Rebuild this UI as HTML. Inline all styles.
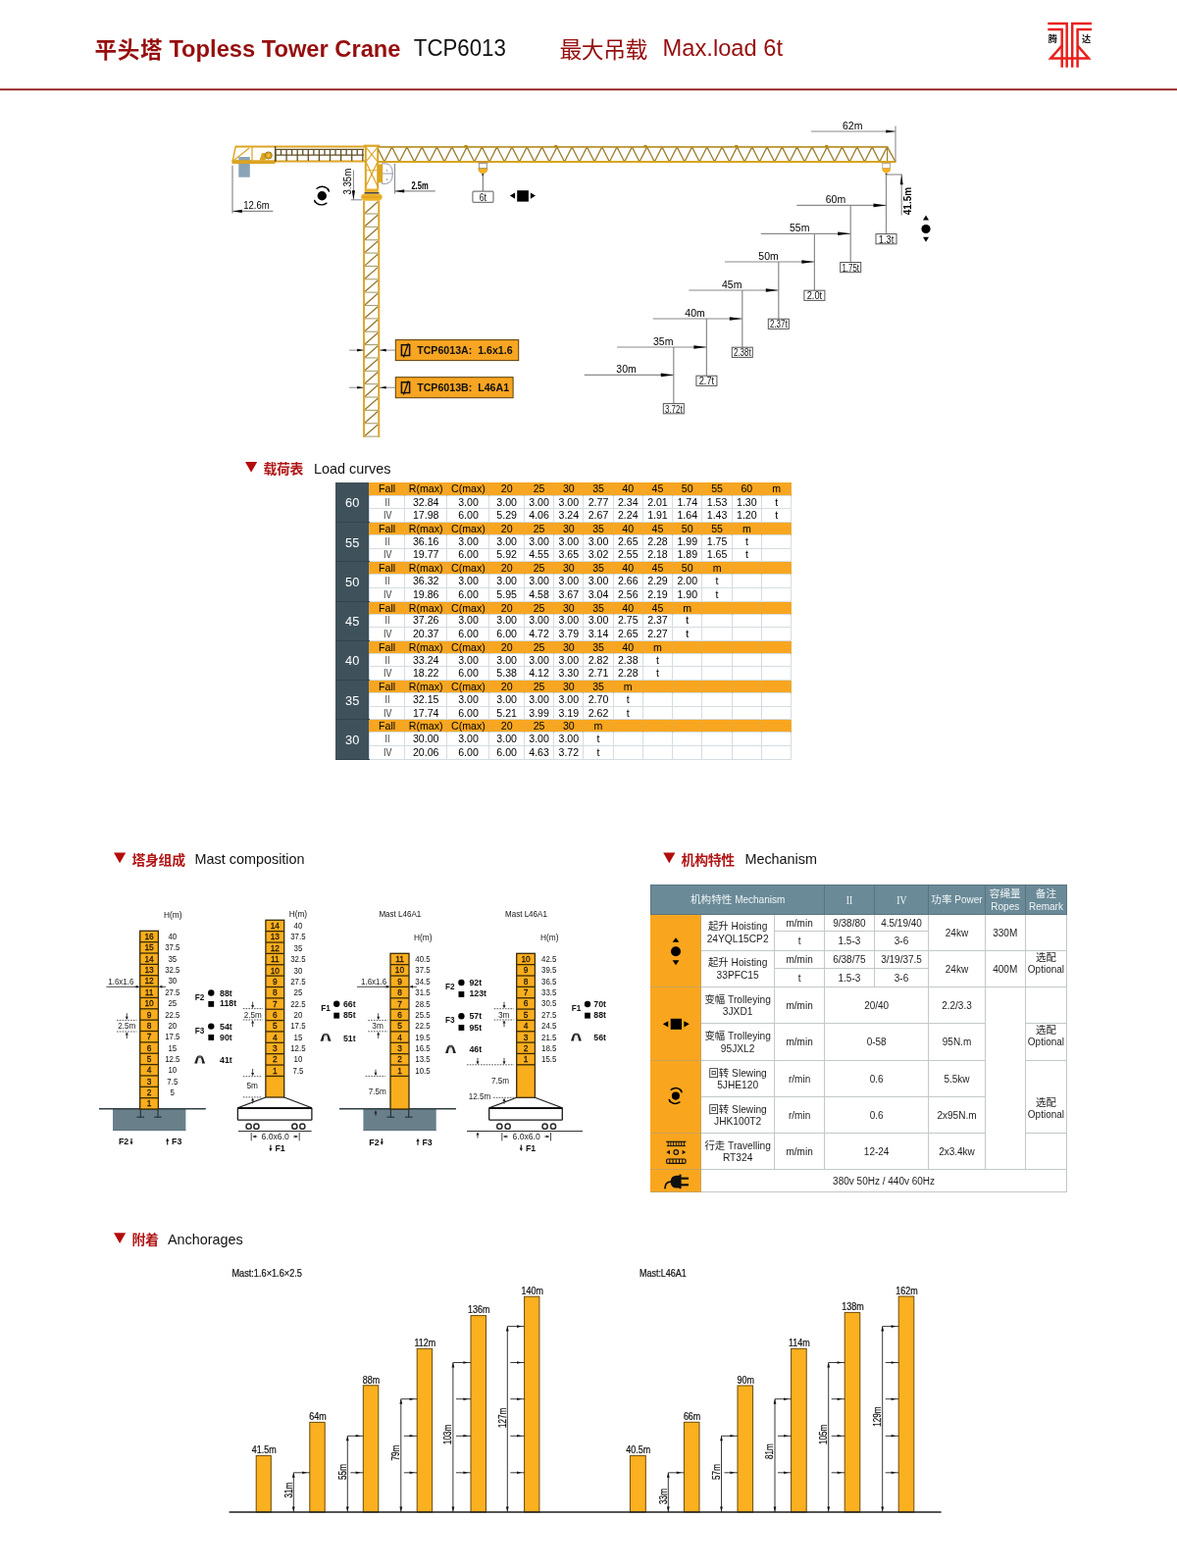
<!DOCTYPE html>
<html lang="zh"><head><meta charset="utf-8"><title>Topless Tower Crane TCP6013</title>
<style>
*{box-sizing:border-box;margin:0;padding:0}
html,body{width:1200px;height:1599px;background:#fff;overflow:hidden}
body{font-family:"Liberation Sans","Noto Sans CJK SC",sans-serif;color:#000;position:relative}
#pg{will-change:transform;position:absolute;left:0;top:0;width:1200px;height:1599px;overflow:hidden;background:#fff}
#ov{position:absolute;left:0;top:0}
#ov text{font-family:"Liberation Sans","Noto Sans CJK SC",sans-serif}
table{border-collapse:collapse;table-layout:fixed;position:absolute}
.lt td{font-size:10.6px;text-align:center;vertical-align:middle;padding:0;white-space:nowrap;overflow:hidden;line-height:11px}
.lt tr.h td{background:#f8a620;height:13px;border-left:1px solid #e9a93c;border-right:1px solid #e9a93c;padding-top:1px}
.lt tr.d td{height:13.65px;border:1px solid #d5dde2;background:#fff}
.lt td.g{background:#3f525b !important;color:#fff;font-size:12.8px;border:none !important;border-bottom:1px solid #33434b !important}
.lt td.fl{font-size:10.8px;color:#333}
.lt td.fl span{display:inline-block;transform:scaleX(0.82)}

.mt td{font-size:10px;text-align:center;vertical-align:middle;padding:2px 0 0 0;line-height:12.3px;border:1.2px solid #c3c8ca;color:#1c1c1c;background:#fff;white-space:nowrap;overflow:hidden}
.mt td.hd{background:#6a8a98;color:#f1f5f6;border-color:#58757f;font-size:10px;line-height:12.6px}
.mt td.rn{font-family:"Liberation Serif",serif;font-size:12px;letter-spacing:0}
.mt td.rn span{display:inline-block;transform:scaleX(0.8)}
.mt td.ic{background:#f9a61e;border-color:#c9a25a;border-left-color:#f9a61e}
.mt td.nm{font-size:10.2px}
.mt td.rk{vertical-align:top}
.mt td.lt2{border-top-color:#e4e7e8}
.mt .op{margin-top:-1px;line-height:12px}
span.cj{font-family:"Liberation Sans","Noto Sans CJK SC",sans-serif;font-size:10.4px}
.mt td.hd span.cj{font-size:10.6px;color:#eef3f5}
</style></head><body><div id="pg">
<table class="lt" style="left:342.2px;top:492.2px;width:464.8px"><colgroup><col style="width:34.6px"><col style="width:35.7px"><col style="width:43.5px"><col style="width:43px"><col style="width:35.4px"><col style="width:30.4px"><col style="width:30.2px"><col style="width:30.2px"><col style="width:30.2px"><col style="width:30.3px"><col style="width:30.3px"><col style="width:30.3px"><col style="width:30.3px"><col style="width:30.4px"></colgroup><tr class="h"><td class="g" rowspan="3">60</td><td>Fall</td><td>R(max)</td><td>C(max)</td><td>20</td><td>25</td><td>30</td><td>35</td><td>40</td><td>45</td><td>50</td><td>55</td><td>60</td><td>m</td></tr><tr class="d"><td class="fl"><span>II</span></td><td>32.84</td><td>3.00</td><td>3.00</td><td>3.00</td><td>3.00</td><td>2.77</td><td>2.34</td><td>2.01</td><td>1.74</td><td>1.53</td><td>1.30</td><td>t</td></tr><tr class="d"><td class="fl"><span>IV</span></td><td>17.98</td><td>6.00</td><td>5.29</td><td>4.06</td><td>3.24</td><td>2.67</td><td>2.24</td><td>1.91</td><td>1.64</td><td>1.43</td><td>1.20</td><td>t</td></tr><tr class="h"><td class="g" rowspan="3">55</td><td>Fall</td><td>R(max)</td><td>C(max)</td><td>20</td><td>25</td><td>30</td><td>35</td><td>40</td><td>45</td><td>50</td><td>55</td><td>m</td><td></td></tr><tr class="d"><td class="fl"><span>II</span></td><td>36.16</td><td>3.00</td><td>3.00</td><td>3.00</td><td>3.00</td><td>3.00</td><td>2.65</td><td>2.28</td><td>1.99</td><td>1.75</td><td>t</td><td></td></tr><tr class="d"><td class="fl"><span>IV</span></td><td>19.77</td><td>6.00</td><td>5.92</td><td>4.55</td><td>3.65</td><td>3.02</td><td>2.55</td><td>2.18</td><td>1.89</td><td>1.65</td><td>t</td><td></td></tr><tr class="h"><td class="g" rowspan="3">50</td><td>Fall</td><td>R(max)</td><td>C(max)</td><td>20</td><td>25</td><td>30</td><td>35</td><td>40</td><td>45</td><td>50</td><td>m</td><td></td><td></td></tr><tr class="d"><td class="fl"><span>II</span></td><td>36.32</td><td>3.00</td><td>3.00</td><td>3.00</td><td>3.00</td><td>3.00</td><td>2.66</td><td>2.29</td><td>2.00</td><td>t</td><td></td><td></td></tr><tr class="d"><td class="fl"><span>IV</span></td><td>19.86</td><td>6.00</td><td>5.95</td><td>4.58</td><td>3.67</td><td>3.04</td><td>2.56</td><td>2.19</td><td>1.90</td><td>t</td><td></td><td></td></tr><tr class="h"><td class="g" rowspan="3">45</td><td>Fall</td><td>R(max)</td><td>C(max)</td><td>20</td><td>25</td><td>30</td><td>35</td><td>40</td><td>45</td><td>m</td><td></td><td></td><td></td></tr><tr class="d"><td class="fl"><span>II</span></td><td>37.26</td><td>3.00</td><td>3.00</td><td>3.00</td><td>3.00</td><td>3.00</td><td>2.75</td><td>2.37</td><td>t</td><td></td><td></td><td></td></tr><tr class="d"><td class="fl"><span>IV</span></td><td>20.37</td><td>6.00</td><td>6.00</td><td>4.72</td><td>3.79</td><td>3.14</td><td>2.65</td><td>2.27</td><td>t</td><td></td><td></td><td></td></tr><tr class="h"><td class="g" rowspan="3">40</td><td>Fall</td><td>R(max)</td><td>C(max)</td><td>20</td><td>25</td><td>30</td><td>35</td><td>40</td><td>m</td><td></td><td></td><td></td><td></td></tr><tr class="d"><td class="fl"><span>II</span></td><td>33.24</td><td>3.00</td><td>3.00</td><td>3.00</td><td>3.00</td><td>2.82</td><td>2.38</td><td>t</td><td></td><td></td><td></td><td></td></tr><tr class="d"><td class="fl"><span>IV</span></td><td>18.22</td><td>6.00</td><td>5.38</td><td>4.12</td><td>3.30</td><td>2.71</td><td>2.28</td><td>t</td><td></td><td></td><td></td><td></td></tr><tr class="h"><td class="g" rowspan="3">35</td><td>Fall</td><td>R(max)</td><td>C(max)</td><td>20</td><td>25</td><td>30</td><td>35</td><td>m</td><td></td><td></td><td></td><td></td><td></td></tr><tr class="d"><td class="fl"><span>II</span></td><td>32.15</td><td>3.00</td><td>3.00</td><td>3.00</td><td>3.00</td><td>2.70</td><td>t</td><td></td><td></td><td></td><td></td><td></td></tr><tr class="d"><td class="fl"><span>IV</span></td><td>17.74</td><td>6.00</td><td>5.21</td><td>3.99</td><td>3.19</td><td>2.62</td><td>t</td><td></td><td></td><td></td><td></td><td></td></tr><tr class="h"><td class="g" rowspan="3">30</td><td>Fall</td><td>R(max)</td><td>C(max)</td><td>20</td><td>25</td><td>30</td><td>m</td><td></td><td></td><td></td><td></td><td></td><td></td></tr><tr class="d"><td class="fl"><span>II</span></td><td>30.00</td><td>3.00</td><td>3.00</td><td>3.00</td><td>3.00</td><td>t</td><td></td><td></td><td></td><td></td><td></td><td></td></tr><tr class="d"><td class="fl"><span>IV</span></td><td>20.06</td><td>6.00</td><td>6.00</td><td>4.63</td><td>3.72</td><td>t</td><td></td><td></td><td></td><td></td><td></td><td></td></tr></table>
<table class="mt" style="left:663.3px;top:901.7px;width:423.8px"><colgroup><col style="width:50.8px"><col style="width:75.1px"><col style="width:50.8px"><col style="width:50.8px"><col style="width:55.5px"><col style="width:57.4px"><col style="width:41.1px"><col style="width:42.3px"></colgroup><tr style="height:30px"><td class="hd" colspan="3"><span class="cj">机构特性</span> Mechanism</td><td class="hd rn"><span>II</span></td><td class="hd rn"><span>IV</span></td><td class="hd"><span class="cj">功率</span> Power</td><td class="hd"><span class="cj">容绳量</span><br>Ropes</td><td class="hd"><span class="cj">备注</span><br>Remark</td></tr><tr style="height:17.7px"><td class="ic" rowspan="4"></td><td class="nm" rowspan="2"><span class="cj">起升</span> Hoisting<br>24YQL15CP2</td><td>m/min</td><td>9/38/80</td><td>4.5/19/40</td><td rowspan="2">24kw</td><td rowspan="2">330M</td><td rowspan="2"></td></tr><tr style="height:19.3px"><td>t</td><td>1.5-3</td><td>3-6</td></tr><tr style="height:18.8px"><td class="nm" rowspan="2"><span class="cj">起升</span> Hoisting<br>33PFC15</td><td>m/min</td><td>6/38/75</td><td>3/19/37.5</td><td rowspan="2">24kw</td><td rowspan="2">400M</td><td class="rk" rowspan="2"><div class="op"><span class="cj">选配</span><br>Optional</div></td></tr><tr style="height:18.4px"><td>t</td><td>1.5-3</td><td>3-6</td></tr><tr style="height:37.5px"><td class="ic" rowspan="2"></td><td class="nm"><span class="cj">变幅</span> Trolleying<br>3JXD1</td><td>m/min</td><td colspan="2">20/40</td><td>2.2/3.3</td><td rowspan="5"></td><td></td></tr><tr style="height:37.3px"><td class="nm"><span class="cj">变幅</span> Trolleying<br>95JXL2</td><td>m/min</td><td colspan="2">0-58</td><td>95N.m</td><td class="rk"><div class="op"><span class="cj">选配</span><br>Optional</div></td></tr><tr style="height:37.5px"><td class="ic" rowspan="2"></td><td class="nm"><span class="cj">回转</span> Slewing<br>5JHE120</td><td>r/min</td><td colspan="2">0.6</td><td>5.5kw</td><td class="rk" rowspan="2"><div class="op" style="margin-top:35.6px"><span class="cj">选配</span><br>Optional</div></td></tr><tr style="height:37.2px"><td class="nm lt2"><span class="cj">回转</span> Slewing<br>JHK100T2</td><td class="lt2">r/min</td><td class="lt2" colspan="2">0.6</td><td class="lt2">2x95N.m</td></tr><tr style="height:37.1px"><td class="ic"></td><td class="nm"><span class="cj">行走</span> Travelling<br>RT324</td><td>m/min</td><td colspan="2">12-24</td><td>2x3.4kw</td><td></td></tr><tr style="height:22.9px"><td class="ic"></td><td colspan="7">380v 50Hz / 440v 60Hz</td></tr></table>
<svg id="ov" width="1200" height="1599" viewBox="0 0 1200 1599">
<text x="96.6" y="58.6" font-size="22.6" font-weight="bold" letter-spacing="0.6" fill="#960e0e">平头塔</text>
<text transform="translate(172.4,57.5)" font-size="23.7" font-weight="bold" fill="#960e0e">Topless Tower Crane</text>
<text transform="translate(421.8,57.3) scale(0.94,1)" font-size="23.7" fill="#111">TCP6013</text>
<text x="570.4" y="58.6" font-size="22.8" letter-spacing="-0.4" fill="#960e0e">最大吊载</text>
<text transform="translate(675.6,57.3)" font-size="23.7" fill="#960e0e">Max.load 6t</text>
<rect x="0" y="90.4" width="1200" height="1.8" fill="#8f1414"/>
<g fill="none" stroke="#e8211d" stroke-width="2.5">
<path d="M1068.3 24.1 H1087.7 V68.8"/>
<path d="M1068.3 30 H1082.7 V68.8"/>
<path d="M1113 24.1 H1093.2 V68.8"/>
<path d="M1113 30 H1098.6 V68.8"/>
<path d="M1082.7 46.5 L1071.2 59.6 H1110 L1098.6 46.5"/>
</g>
<text x="1068.8" y="42.7" font-size="9.2" font-weight="bold" fill="#111">腾</text>
<text x="1103" y="42.7" font-size="9.2" font-weight="bold" fill="#111">达</text>
<polygon points="250,471 262.2,471 256.1,481.7" fill="#b30c0c"/>
<text x="268.4" y="483.2" font-size="13.9" font-weight="bold" letter-spacing="-0.3" fill="#b01515">载荷表</text>
<text transform="translate(320,482.6)" font-size="14.4" fill="#111">Load curves</text>
<line x1="240" y1="149.6" x2="372" y2="149.6" stroke="#dca420" stroke-width="2"/>
<line x1="240.3" y1="149" x2="237.2" y2="164.5" stroke="#dca420" stroke-width="1.4"/>
<rect x="236.7" y="163.3" width="43.8" height="3.7" fill="#dca420"/>
<line x1="238.5" y1="163.5" x2="254" y2="151" stroke="#dca420" stroke-width="1.2"/>
<line x1="257" y1="150" x2="257" y2="163.5" stroke="#dca420" stroke-width="1.2"/>
<rect x="243.3" y="160" width="11.5" height="20.7" fill="#8aa3b6"/>
<rect x="236.7" y="163.3" width="20" height="3.7" fill="#dca420"/>
<polygon points="264.5,163.5 267,156 270,156 271,163.5" fill="#dca420"/>
<circle cx="273.7" cy="158.5" r="3.6" fill="#dca420" stroke="#8a6a10" stroke-width="0.8"/>
<circle cx="273.7" cy="158.5" r="1.4" fill="#f5c040"/>
<line x1="280" y1="152.4" x2="371" y2="152.4" stroke="#5e4f22" stroke-width="1.3"/>
<line x1="280" y1="158.1" x2="371" y2="158.1" stroke="#5e4f22" stroke-width="1.3"/>
<line x1="280" y1="164.6" x2="372" y2="164.6" stroke="#dca420" stroke-width="2"/>
<line x1="281" y1="152.4" x2="281" y2="158.1" stroke="#5e4f22" stroke-width="1.3"/>
<line x1="281" y1="158.1" x2="281" y2="164" stroke="#5e4f22" stroke-width="1.3"/>
<line x1="286.55" y1="152.4" x2="286.55" y2="158.1" stroke="#5e4f22" stroke-width="1.3"/>
<line x1="292.1" y1="152.4" x2="292.1" y2="158.1" stroke="#5e4f22" stroke-width="1.3"/>
<line x1="292.1" y1="158.1" x2="292.1" y2="164" stroke="#5e4f22" stroke-width="1.3"/>
<line x1="297.65" y1="152.4" x2="297.65" y2="158.1" stroke="#5e4f22" stroke-width="1.3"/>
<line x1="303.2" y1="152.4" x2="303.2" y2="158.1" stroke="#5e4f22" stroke-width="1.3"/>
<line x1="303.2" y1="158.1" x2="303.2" y2="164" stroke="#5e4f22" stroke-width="1.3"/>
<line x1="308.75" y1="152.4" x2="308.75" y2="158.1" stroke="#5e4f22" stroke-width="1.3"/>
<line x1="314.3" y1="152.4" x2="314.3" y2="158.1" stroke="#5e4f22" stroke-width="1.3"/>
<line x1="314.3" y1="158.1" x2="314.3" y2="164" stroke="#5e4f22" stroke-width="1.3"/>
<line x1="319.85" y1="152.4" x2="319.85" y2="158.1" stroke="#5e4f22" stroke-width="1.3"/>
<line x1="325.4" y1="152.4" x2="325.4" y2="158.1" stroke="#5e4f22" stroke-width="1.3"/>
<line x1="325.4" y1="158.1" x2="325.4" y2="164" stroke="#5e4f22" stroke-width="1.3"/>
<line x1="330.95" y1="152.4" x2="330.95" y2="158.1" stroke="#5e4f22" stroke-width="1.3"/>
<line x1="336.5" y1="152.4" x2="336.5" y2="158.1" stroke="#5e4f22" stroke-width="1.3"/>
<line x1="336.5" y1="158.1" x2="336.5" y2="164" stroke="#5e4f22" stroke-width="1.3"/>
<line x1="342.05" y1="152.4" x2="342.05" y2="158.1" stroke="#5e4f22" stroke-width="1.3"/>
<line x1="347.6" y1="152.4" x2="347.6" y2="158.1" stroke="#5e4f22" stroke-width="1.3"/>
<line x1="347.6" y1="158.1" x2="347.6" y2="164" stroke="#5e4f22" stroke-width="1.3"/>
<line x1="353.15" y1="152.4" x2="353.15" y2="158.1" stroke="#5e4f22" stroke-width="1.3"/>
<line x1="358.7" y1="152.4" x2="358.7" y2="158.1" stroke="#5e4f22" stroke-width="1.3"/>
<line x1="358.7" y1="158.1" x2="358.7" y2="164" stroke="#5e4f22" stroke-width="1.3"/>
<line x1="364.25" y1="152.4" x2="364.25" y2="158.1" stroke="#5e4f22" stroke-width="1.3"/>
<line x1="369.8" y1="152.4" x2="369.8" y2="158.1" stroke="#5e4f22" stroke-width="1.3"/>
<line x1="369.8" y1="158.1" x2="369.8" y2="164" stroke="#5e4f22" stroke-width="1.3"/>
<line x1="280.6" y1="149" x2="280.6" y2="165" stroke="#5e4f22" stroke-width="1.4"/>
<rect x="370.8" y="147.6" width="16.4" height="2.2" fill="#dca420"/>
<line x1="372.8" y1="148.5" x2="372.8" y2="193" stroke="#dca420" stroke-width="2"/>
<line x1="385.2" y1="148.5" x2="385.2" y2="193" stroke="#dca420" stroke-width="2"/>
<polyline points="373,150 385,165 373,190" fill="none" stroke="#dca420" stroke-width="1.2"/>
<polyline points="385,150 373,165 385,190" fill="none" stroke="#dca420" stroke-width="1.2"/>
<line x1="373" y1="173.5" x2="385" y2="173.5" stroke="#dca420" stroke-width="0.8"/>
<rect x="371.8" y="192.4" width="14" height="4" fill="#ecb12c" rx="1"/>
<rect x="371.5" y="196.2" width="15" height="1.4" fill="#222"/>
<path d="M370 197.8 h18 q2.6 2.2 1.4 4.4 q-1 2.4 -3.4 2.6 h-14 q-2.6 -0.4 -3.6 -2.6 q-1 -2.4 1.6 -4.4z" fill="#f0b228"/>
<line x1="369" y1="201" x2="389" y2="201" stroke="#c98f14" stroke-width="0.7"/>
<path d="M389.5 166.8 h4 q6.8 0.8 6.8 10.2 q0 9.6 -6.8 10.4 h-4z" fill="#fff" stroke="#7f8aa0" stroke-width="0.9"/>
<line x1="389.8" y1="177" x2="400.2" y2="177" stroke="#7f8aa0" stroke-width="0.8"/>
<rect x="385.8" y="167.5" width="4.4" height="18.8" fill="#dca420" rx="1"/>
<text transform="translate(394.6,174.6)" font-size="4" text-anchor="middle" fill="#666">x</text>
<text transform="translate(394.6,183.6)" font-size="4" text-anchor="middle" fill="#666">x</text>
<line x1="371.05" y1="204.5" x2="371.05" y2="446" stroke="#dba62a" stroke-width="2"/>
<line x1="386.25" y1="204.5" x2="386.25" y2="446" stroke="#dba62a" stroke-width="2"/>
<line x1="372" y1="445.1" x2="385.3" y2="445.1" stroke="#ab9d68" stroke-width="1.1"/>
<line x1="372" y1="431.74" x2="385.3" y2="431.74" stroke="#ab9d68" stroke-width="1.1"/>
<line x1="372" y1="418.38" x2="385.3" y2="418.38" stroke="#ab9d68" stroke-width="1.1"/>
<line x1="372" y1="405.02" x2="385.3" y2="405.02" stroke="#ab9d68" stroke-width="1.1"/>
<line x1="372" y1="391.66" x2="385.3" y2="391.66" stroke="#ab9d68" stroke-width="1.1"/>
<line x1="372" y1="378.3" x2="385.3" y2="378.3" stroke="#ab9d68" stroke-width="1.1"/>
<line x1="372" y1="364.94" x2="385.3" y2="364.94" stroke="#ab9d68" stroke-width="1.1"/>
<line x1="372" y1="351.58" x2="385.3" y2="351.58" stroke="#ab9d68" stroke-width="1.1"/>
<line x1="372" y1="338.22" x2="385.3" y2="338.22" stroke="#ab9d68" stroke-width="1.1"/>
<line x1="372" y1="324.86" x2="385.3" y2="324.86" stroke="#ab9d68" stroke-width="1.1"/>
<line x1="372" y1="311.5" x2="385.3" y2="311.5" stroke="#ab9d68" stroke-width="1.1"/>
<line x1="372" y1="298.14" x2="385.3" y2="298.14" stroke="#ab9d68" stroke-width="1.1"/>
<line x1="372" y1="284.78" x2="385.3" y2="284.78" stroke="#ab9d68" stroke-width="1.1"/>
<line x1="372" y1="271.42" x2="385.3" y2="271.42" stroke="#ab9d68" stroke-width="1.1"/>
<line x1="372" y1="258.06" x2="385.3" y2="258.06" stroke="#ab9d68" stroke-width="1.1"/>
<line x1="372" y1="244.7" x2="385.3" y2="244.7" stroke="#ab9d68" stroke-width="1.1"/>
<line x1="372" y1="231.34" x2="385.3" y2="231.34" stroke="#ab9d68" stroke-width="1.1"/>
<line x1="372" y1="217.98" x2="385.3" y2="217.98" stroke="#ab9d68" stroke-width="1.1"/>
<line x1="372.2" y1="444.3" x2="385.2" y2="432.94" stroke="#93762a" stroke-width="1.3"/>
<line x1="372.2" y1="430.94" x2="385.2" y2="419.58" stroke="#93762a" stroke-width="1.3"/>
<line x1="372.2" y1="417.58" x2="385.2" y2="406.22" stroke="#93762a" stroke-width="1.3"/>
<line x1="372.2" y1="404.22" x2="385.2" y2="392.86" stroke="#93762a" stroke-width="1.3"/>
<line x1="372.2" y1="390.86" x2="385.2" y2="379.5" stroke="#93762a" stroke-width="1.3"/>
<line x1="372.2" y1="377.5" x2="385.2" y2="366.14" stroke="#93762a" stroke-width="1.3"/>
<line x1="372.2" y1="364.14" x2="385.2" y2="352.78" stroke="#93762a" stroke-width="1.3"/>
<line x1="372.2" y1="350.78" x2="385.2" y2="339.42" stroke="#93762a" stroke-width="1.3"/>
<line x1="372.2" y1="337.42" x2="385.2" y2="326.06" stroke="#93762a" stroke-width="1.3"/>
<line x1="372.2" y1="324.06" x2="385.2" y2="312.7" stroke="#93762a" stroke-width="1.3"/>
<line x1="372.2" y1="310.7" x2="385.2" y2="299.34" stroke="#93762a" stroke-width="1.3"/>
<line x1="372.2" y1="297.34" x2="385.2" y2="285.98" stroke="#93762a" stroke-width="1.3"/>
<line x1="372.2" y1="283.98" x2="385.2" y2="272.62" stroke="#93762a" stroke-width="1.3"/>
<line x1="372.2" y1="270.62" x2="385.2" y2="259.26" stroke="#93762a" stroke-width="1.3"/>
<line x1="372.2" y1="257.26" x2="385.2" y2="245.9" stroke="#93762a" stroke-width="1.3"/>
<line x1="372.2" y1="243.9" x2="385.2" y2="232.54" stroke="#93762a" stroke-width="1.3"/>
<line x1="372.2" y1="230.54" x2="385.2" y2="219.18" stroke="#93762a" stroke-width="1.3"/>
<line x1="372.2" y1="217.18" x2="385.2" y2="205.82" stroke="#93762a" stroke-width="1.3"/>
<polyline points="385.6,152.4 391.9,165 399.55,149.9 407.2,165 414.85,149.9 422.5,165 430.15,149.9 437.8,165 445.45,149.9 453.1,165 460.75,149.9 468.4,165 476.05,149.9 483.7,165 491.35,149.9 499,165 506.65,149.9 514.3,165 521.95,149.9 529.6,165 537.25,149.9 544.9,165 552.55,149.9 560.2,165 567.85,149.9 575.5,165 583.15,149.9 590.8,165 598.45,149.9 606.1,165 613.75,149.9 621.4,165 629.05,149.9 636.7,165 644.35,149.9 652,165 659.65,149.9 667.3,165 674.95,149.9 682.6,165 690.25,149.9 697.9,165 705.55,149.9 713.2,165 720.85,149.9 728.5,165 736.15,149.9 743.8,165 751.45,149.9 759.1,165 766.75,149.9 774.4,165 782.05,149.9 789.7,165 797.35,149.9 805,165 812.65,149.9 820.3,165 827.95,149.9 835.6,165 843.25,149.9 850.9,165 858.55,149.9 866.2,165 873.85,149.9 881.5,165 889.15,149.9 896.8,165 904.45,149.9" fill="none" stroke="#9c7e2e" stroke-width="1.3" stroke-linejoin="round"/>
<line x1="904.6" y1="149.9" x2="904.6" y2="165" stroke="#9c7e2e" stroke-width="1.2"/>
<line x1="904.6" y1="149.9" x2="913" y2="165" stroke="#a8862a" stroke-width="1.5"/>
<line x1="386" y1="149.9" x2="905.5" y2="149.9" stroke="#b9942e" stroke-width="1.9"/>
<line x1="386" y1="165" x2="913.5" y2="165" stroke="#d6a420" stroke-width="2.1"/>
<rect x="473.4" y="147.9" width="3.2" height="2.2" fill="#b8860b"/>
<rect x="565.1" y="147.9" width="3.2" height="2.2" fill="#b8860b"/>
<rect x="656.4" y="147.9" width="3.2" height="2.2" fill="#b8860b"/>
<rect x="749.1" y="147.9" width="3.2" height="2.2" fill="#b8860b"/>
<rect x="841.1" y="147.9" width="3.2" height="2.2" fill="#b8860b"/>
<rect x="487.2" y="164.2" width="10.4" height="2.4" fill="#c9982a"/>
<rect x="488.4" y="166.7" width="8" height="5" fill="#fff" stroke="#8a8a8a" stroke-width="0.9"/>
<path d="M487.6 171.9 h9.6 q-0.6 4.6 -4.8 4.8 q-4.2 -0.2 -4.8 -4.8z" fill="#f5b020" stroke="#c48a10" stroke-width="0.5"/>
<circle cx="492.3" cy="178.1" r="1.1" fill="#222"/>
<line x1="492.3" y1="178.5" x2="492.3" y2="195.2" stroke="#666" stroke-width="1"/>
<rect x="481.9" y="195.2" width="21.1" height="11.1" fill="#fff" stroke="#7a7a7a" stroke-width="1.2" rx="1"/>
<text transform="translate(492.4,204.9) scale(0.8,1)" font-size="11" text-anchor="middle" fill="#111">6t</text>
<rect x="527.2" y="194.2" width="11.7" height="11.4" fill="#000"/>
<polygon points="519.8,199.6 525.1,196.5 525.1,202.7" fill="#000"/>
<polygon points="546,199.6 540.9,196.5 540.9,202.7" fill="#000"/>
<g transform="translate(328.3,199.7) scale(1)" fill="#000"><circle cx="0" cy="0" r="4.7"/><path d="M-5.3 -7.4 Q0 -11.4 5.2 -7.6 Q6.6 -6.4 7 -4.6" fill="none" stroke="#000" stroke-width="1.3" stroke-linecap="round"/><path d="M4.7 7.4 Q-0.6 11 -5.8 7.4 Q-7.2 6.2 -7.6 4.6" fill="none" stroke="#000" stroke-width="1.3" stroke-linecap="round"/><path d="M4.4 -7.2 L7.6 -4 L6.8 -7.6z"/><path d="M-5 7 L-8.2 3.8 L-7.4 7.4z"/></g>
<line x1="237" y1="168.8" x2="237" y2="217.4" stroke="#8a8a8a" stroke-width="1.2"/>
<line x1="237" y1="215.4" x2="278.4" y2="215.4" stroke="#8a8a8a" stroke-width="1.1"/>
<polygon points="237.3,215.4 246.8,213.8 246.8,217" fill="#000"/>
<text transform="translate(248.2,213.4) scale(0.83,1)" font-size="11.5">12.6m</text>
<line x1="360.4" y1="173.4" x2="360.4" y2="203.8" stroke="#8a8a8a" stroke-width="1.1"/>
<line x1="357.8" y1="203.8" x2="369" y2="203.8" stroke="#8a8a8a" stroke-width="1.1"/>
<polygon points="360.4,203.8 358.8,194.3 362,194.3" fill="#000"/>
<text transform="translate(358.2,198.6) rotate(-90) scale(0.88,1)" font-size="11">3.35m</text>
<line x1="402.5" y1="166.8" x2="402.5" y2="197.6" stroke="#8a8a8a" stroke-width="1.1"/>
<line x1="402.5" y1="194.9" x2="443.8" y2="194.9" stroke="#8a8a8a" stroke-width="1.1"/>
<polygon points="402.7,194.9 412.2,193.3 412.2,196.5" fill="#000"/>
<text transform="translate(419.4,192.6) scale(0.72,1)" font-size="10.5" font-weight="bold">2.5m</text>
<line x1="913" y1="128.5" x2="913" y2="165" stroke="#8a8a8a" stroke-width="1.1"/>
<line x1="827" y1="134" x2="913" y2="134" stroke="#8a8a8a" stroke-width="1.1"/>
<polygon points="912.8,134 903.3,132.5 903.3,135.5" fill="#000"/>
<text transform="translate(859,131.6)" font-size="10.5">62m</text>
<rect x="898.6" y="164.3" width="10" height="2.4" fill="#dca420"/>
<rect x="899.8" y="166.7" width="7.8" height="4.8" fill="#fff" stroke="#999" stroke-width="0.8"/>
<path d="M899 171.6 h9.4 q-0.6 4.6 -4.7 4.8 q-4.1 -0.2 -4.7 -4.8z" fill="#f5b020"/>
<circle cx="903.6" cy="177.4" r="1" fill="#222"/>
<line x1="903.6" y1="178" x2="920.2" y2="178" stroke="#8a8a8a" stroke-width="1.1"/>
<line x1="919.2" y1="178" x2="919.2" y2="219.6" stroke="#8a8a8a" stroke-width="1.1"/>
<polygon points="919.2,178.2 917.7,188.2 920.7,188.2" fill="#000"/>
<text transform="translate(929.2,219.2) rotate(-90) scale(0.95,1)" font-size="10.5" font-weight="bold">41.5m</text>
<circle cx="944" cy="233.5" r="4.6" fill="#000"/>
<polygon points="944,219.6 941,224.6 947,224.6" fill="#000"/>
<polygon points="944,246.8 941,241.8 947,241.8" fill="#000"/>
<line x1="903.5" y1="178" x2="903.5" y2="238.6" stroke="#8a8a8a" stroke-width="1.2"/>
<line x1="812.3" y1="209.4" x2="903.5" y2="209.4" stroke="#8a8a8a" stroke-width="1.2"/>
<polygon points="903.5,209.4 890.5,207.6 890.5,211.2" fill="#000"/>
<text transform="translate(841.7,207)" font-size="10.5">60m</text>
<rect x="893" y="238.6" width="21" height="10.2" fill="#fff" stroke="#555" stroke-width="1"/>
<text transform="translate(903.5,247.8) scale(0.84,1)" font-size="11" text-anchor="middle" fill="#111">1.3t</text>
<line x1="867.2" y1="209.4" x2="867.2" y2="267.5" stroke="#8a8a8a" stroke-width="1.2"/>
<line x1="775.7" y1="238.3" x2="867.2" y2="238.3" stroke="#8a8a8a" stroke-width="1.2"/>
<polygon points="867.2,238.3 854.2,236.5 854.2,240.1" fill="#000"/>
<text transform="translate(805,235.9)" font-size="10.5">55m</text>
<rect x="856.7" y="267.5" width="21" height="10.2" fill="#fff" stroke="#555" stroke-width="1"/>
<text transform="translate(867.2,276.7) scale(0.72,1)" font-size="11" text-anchor="middle" fill="#111">1.75t</text>
<line x1="830.4" y1="238.3" x2="830.4" y2="296.2" stroke="#8a8a8a" stroke-width="1.2"/>
<line x1="739" y1="267" x2="830.4" y2="267" stroke="#8a8a8a" stroke-width="1.2"/>
<polygon points="830.4,267 817.4,265.2 817.4,268.8" fill="#000"/>
<text transform="translate(773.3,264.6)" font-size="10.5">50m</text>
<rect x="819.9" y="296.2" width="21" height="10.2" fill="#fff" stroke="#555" stroke-width="1"/>
<text transform="translate(830.4,305.4) scale(0.84,1)" font-size="11" text-anchor="middle" fill="#111">2.0t</text>
<line x1="793.8" y1="267" x2="793.8" y2="325.2" stroke="#8a8a8a" stroke-width="1.2"/>
<line x1="702.3" y1="296" x2="793.8" y2="296" stroke="#8a8a8a" stroke-width="1.2"/>
<polygon points="793.8,296 780.8,294.2 780.8,297.8" fill="#000"/>
<text transform="translate(736,293.6)" font-size="10.5">45m</text>
<rect x="783.3" y="325.2" width="21" height="10.2" fill="#fff" stroke="#555" stroke-width="1"/>
<text transform="translate(793.8,334.4) scale(0.72,1)" font-size="11" text-anchor="middle" fill="#111">2.37t</text>
<line x1="756.8" y1="296" x2="756.8" y2="354.2" stroke="#8a8a8a" stroke-width="1.2"/>
<line x1="665.7" y1="325" x2="756.8" y2="325" stroke="#8a8a8a" stroke-width="1.2"/>
<polygon points="756.8,325 743.8,323.2 743.8,326.8" fill="#000"/>
<text transform="translate(698.3,322.6)" font-size="10.5">40m</text>
<rect x="746.3" y="354.2" width="21" height="10.2" fill="#fff" stroke="#555" stroke-width="1"/>
<text transform="translate(756.8,363.4) scale(0.72,1)" font-size="11" text-anchor="middle" fill="#111">2.38t</text>
<line x1="720.4" y1="325" x2="720.4" y2="383.2" stroke="#8a8a8a" stroke-width="1.2"/>
<line x1="629" y1="354" x2="720.4" y2="354" stroke="#8a8a8a" stroke-width="1.2"/>
<polygon points="720.4,354 707.4,352.2 707.4,355.8" fill="#000"/>
<text transform="translate(666,351.6)" font-size="10.5">35m</text>
<rect x="709.9" y="383.2" width="21" height="10.2" fill="#fff" stroke="#555" stroke-width="1"/>
<text transform="translate(720.4,392.4) scale(0.84,1)" font-size="11" text-anchor="middle" fill="#111">2.7t</text>
<line x1="686.8" y1="354" x2="686.8" y2="411.6" stroke="#8a8a8a" stroke-width="1.2"/>
<line x1="595.7" y1="382.4" x2="686.8" y2="382.4" stroke="#8a8a8a" stroke-width="1.2"/>
<polygon points="686.8,382.4 673.8,380.6 673.8,384.2" fill="#000"/>
<text transform="translate(628.3,380)" font-size="10.5">30m</text>
<rect x="676.3" y="411.6" width="21" height="10.2" fill="#fff" stroke="#555" stroke-width="1"/>
<text transform="translate(686.8,420.8) scale(0.72,1)" font-size="11" text-anchor="middle" fill="#111">3.72t</text>
<rect x="403.3" y="346.6" width="125.4" height="21" fill="#f7a522" stroke="#5a3d05" stroke-width="1"/>
<rect x="409.4" y="351.7" width="8.2" height="10.8" fill="none" stroke="#111" stroke-width="1.5"/>
<line x1="411.4" y1="364.5" x2="416.4" y2="350.1" stroke="#111" stroke-width="1.3"/>
<text transform="translate(425.2,361.1) scale(0.95,1)" font-size="11.2" font-weight="bold" fill="#111">TCP6013A:&#160; 1.6x1.6</text>
<line x1="356" y1="357.1" x2="371" y2="357.1" stroke="#8a8a8a" stroke-width="1"/>
<polygon points="370.6,357.1 364.1,355.8 364.1,358.4" fill="#000"/>
<line x1="387" y1="357.1" x2="403" y2="357.1" stroke="#8a8a8a" stroke-width="1"/>
<polygon points="387.2,357.1 393.7,355.8 393.7,358.4" fill="#000"/>
<rect x="403.3" y="384.7" width="119.8" height="21" fill="#f7a522" stroke="#5a3d05" stroke-width="1"/>
<rect x="409.4" y="389.8" width="8.2" height="10.8" fill="none" stroke="#111" stroke-width="1.5"/>
<line x1="411.4" y1="402.6" x2="416.4" y2="388.2" stroke="#111" stroke-width="1.3"/>
<text transform="translate(425.2,399.2) scale(0.95,1)" font-size="11.2" font-weight="bold" fill="#111">TCP6013B:&#160; L46A1</text>
<line x1="356" y1="395.2" x2="371" y2="395.2" stroke="#8a8a8a" stroke-width="1"/>
<polygon points="370.6,395.2 364.1,393.9 364.1,396.5" fill="#000"/>
<line x1="387" y1="395.2" x2="403" y2="395.2" stroke="#8a8a8a" stroke-width="1"/>
<polygon points="387.2,395.2 393.7,393.9 393.7,396.5" fill="#000"/>
<polygon points="116,869.6 128.2,869.6 122.1,880.3" fill="#b30c0c"/>
<text x="134.4" y="881.8" font-size="13.9" font-weight="bold" letter-spacing="-0.3" fill="#b01515">塔身组成</text>
<text transform="translate(198.6,881.2)" font-size="14.4" fill="#111">Mast composition</text>
<rect x="115" y="1130.8" width="74.4" height="22.2" fill="#69808a"/>
<line x1="115" y1="1152.6" x2="189.4" y2="1152.6" stroke="#5a6f78" stroke-width="0.8"/>
<line x1="101" y1="1130.7" x2="209.8" y2="1130.7" stroke="#2f3e44" stroke-width="1.5"/>
<line x1="143.3" y1="1131" x2="143.3" y2="1139.2" stroke="#27343b" stroke-width="1.2"/>
<line x1="139.5" y1="1139.2" x2="147.1" y2="1139.2" stroke="#27343b" stroke-width="1.2"/>
<line x1="161" y1="1131" x2="161" y2="1139.2" stroke="#27343b" stroke-width="1.2"/>
<line x1="157.2" y1="1139.2" x2="164.8" y2="1139.2" stroke="#27343b" stroke-width="1.2"/>
<rect x="142.7" y="949.3" width="18.7" height="181.7" fill="#f9ae1e" stroke="#3a2a08" stroke-width="1.3"/>
<text transform="translate(152.05,958.06) scale(0.95,1)" font-size="8.8" text-anchor="middle" fill="#1c1203" stroke="#1c1203" stroke-width="0.25">16</text>
<text transform="translate(175.8,958.06) scale(0.95,1)" font-size="8.3" text-anchor="middle" fill="#111">40</text>
<line x1="142.7" y1="960.66" x2="161.4" y2="960.66" stroke="#3a2a08" stroke-width="1.3"/>
<text transform="translate(152.05,969.41) scale(0.95,1)" font-size="8.8" text-anchor="middle" fill="#1c1203" stroke="#1c1203" stroke-width="0.25">15</text>
<text transform="translate(175.8,969.41) scale(0.95,1)" font-size="8.3" text-anchor="middle" fill="#111">37.5</text>
<line x1="142.7" y1="972.01" x2="161.4" y2="972.01" stroke="#3a2a08" stroke-width="1.3"/>
<text transform="translate(152.05,980.77) scale(0.95,1)" font-size="8.8" text-anchor="middle" fill="#1c1203" stroke="#1c1203" stroke-width="0.25">14</text>
<text transform="translate(175.8,980.77) scale(0.95,1)" font-size="8.3" text-anchor="middle" fill="#111">35</text>
<line x1="142.7" y1="983.37" x2="161.4" y2="983.37" stroke="#3a2a08" stroke-width="1.3"/>
<text transform="translate(152.05,992.12) scale(0.95,1)" font-size="8.8" text-anchor="middle" fill="#1c1203" stroke="#1c1203" stroke-width="0.25">13</text>
<text transform="translate(175.8,992.12) scale(0.95,1)" font-size="8.3" text-anchor="middle" fill="#111">32.5</text>
<line x1="142.7" y1="994.72" x2="161.4" y2="994.72" stroke="#3a2a08" stroke-width="1.3"/>
<text transform="translate(152.05,1003.48) scale(0.95,1)" font-size="8.8" text-anchor="middle" fill="#1c1203" stroke="#1c1203" stroke-width="0.25">12</text>
<text transform="translate(175.8,1003.48) scale(0.95,1)" font-size="8.3" text-anchor="middle" fill="#111">30</text>
<line x1="142.7" y1="1006.08" x2="161.4" y2="1006.08" stroke="#3a2a08" stroke-width="1.3"/>
<text transform="translate(152.05,1014.84) scale(0.95,1)" font-size="8.8" text-anchor="middle" fill="#1c1203" stroke="#1c1203" stroke-width="0.25">11</text>
<text transform="translate(175.8,1014.84) scale(0.95,1)" font-size="8.3" text-anchor="middle" fill="#111">27.5</text>
<line x1="142.7" y1="1017.44" x2="161.4" y2="1017.44" stroke="#3a2a08" stroke-width="1.3"/>
<text transform="translate(152.05,1026.19) scale(0.95,1)" font-size="8.8" text-anchor="middle" fill="#1c1203" stroke="#1c1203" stroke-width="0.25">10</text>
<text transform="translate(175.8,1026.19) scale(0.95,1)" font-size="8.3" text-anchor="middle" fill="#111">25</text>
<line x1="142.7" y1="1028.79" x2="161.4" y2="1028.79" stroke="#3a2a08" stroke-width="1.3"/>
<text transform="translate(152.05,1037.55) scale(0.95,1)" font-size="8.8" text-anchor="middle" fill="#1c1203" stroke="#1c1203" stroke-width="0.25">9</text>
<text transform="translate(175.8,1037.55) scale(0.95,1)" font-size="8.3" text-anchor="middle" fill="#111">22.5</text>
<line x1="142.7" y1="1040.15" x2="161.4" y2="1040.15" stroke="#3a2a08" stroke-width="1.3"/>
<text transform="translate(152.05,1048.91) scale(0.95,1)" font-size="8.8" text-anchor="middle" fill="#1c1203" stroke="#1c1203" stroke-width="0.25">8</text>
<text transform="translate(175.8,1048.91) scale(0.95,1)" font-size="8.3" text-anchor="middle" fill="#111">20</text>
<line x1="142.7" y1="1051.51" x2="161.4" y2="1051.51" stroke="#3a2a08" stroke-width="1.3"/>
<text transform="translate(152.05,1060.26) scale(0.95,1)" font-size="8.8" text-anchor="middle" fill="#1c1203" stroke="#1c1203" stroke-width="0.25">7</text>
<text transform="translate(175.8,1060.26) scale(0.95,1)" font-size="8.3" text-anchor="middle" fill="#111">17.5</text>
<line x1="142.7" y1="1062.86" x2="161.4" y2="1062.86" stroke="#3a2a08" stroke-width="1.3"/>
<text transform="translate(152.05,1071.62) scale(0.95,1)" font-size="8.8" text-anchor="middle" fill="#1c1203" stroke="#1c1203" stroke-width="0.25">6</text>
<text transform="translate(175.8,1071.62) scale(0.95,1)" font-size="8.3" text-anchor="middle" fill="#111">15</text>
<line x1="142.7" y1="1074.22" x2="161.4" y2="1074.22" stroke="#3a2a08" stroke-width="1.3"/>
<text transform="translate(152.05,1082.98) scale(0.95,1)" font-size="8.8" text-anchor="middle" fill="#1c1203" stroke="#1c1203" stroke-width="0.25">5</text>
<text transform="translate(175.8,1082.98) scale(0.95,1)" font-size="8.3" text-anchor="middle" fill="#111">12.5</text>
<line x1="142.7" y1="1085.58" x2="161.4" y2="1085.58" stroke="#3a2a08" stroke-width="1.3"/>
<text transform="translate(152.05,1094.33) scale(0.95,1)" font-size="8.8" text-anchor="middle" fill="#1c1203" stroke="#1c1203" stroke-width="0.25">4</text>
<text transform="translate(175.8,1094.33) scale(0.95,1)" font-size="8.3" text-anchor="middle" fill="#111">10</text>
<line x1="142.7" y1="1096.93" x2="161.4" y2="1096.93" stroke="#3a2a08" stroke-width="1.3"/>
<text transform="translate(152.05,1105.69) scale(0.95,1)" font-size="8.8" text-anchor="middle" fill="#1c1203" stroke="#1c1203" stroke-width="0.25">3</text>
<text transform="translate(175.8,1105.69) scale(0.95,1)" font-size="8.3" text-anchor="middle" fill="#111">7.5</text>
<line x1="142.7" y1="1108.29" x2="161.4" y2="1108.29" stroke="#3a2a08" stroke-width="1.3"/>
<text transform="translate(152.05,1117.04) scale(0.95,1)" font-size="8.8" text-anchor="middle" fill="#1c1203" stroke="#1c1203" stroke-width="0.25">2</text>
<text transform="translate(175.8,1117.04) scale(0.95,1)" font-size="8.3" text-anchor="middle" fill="#111">5</text>
<line x1="142.7" y1="1119.64" x2="161.4" y2="1119.64" stroke="#3a2a08" stroke-width="1.3"/>
<text transform="translate(152.05,1128.4) scale(0.95,1)" font-size="8.8" text-anchor="middle" fill="#1c1203" stroke="#1c1203" stroke-width="0.25">1</text>
<text transform="translate(167,936)" font-size="8.3" fill="#111">H(m)</text>
<text transform="translate(110.3,1003.7) scale(0.96,1)" font-size="8.3" fill="#222">1.6x1.6</text>
<line x1="108.3" y1="1006.3" x2="140" y2="1006.3" stroke="#333" stroke-width="0.9"/>
<line x1="137.4" y1="1006.3" x2="141.4" y2="1006.3" stroke="#222" stroke-width="0.8"/>
<polygon points="142.4,1006.3 138.8,1004.8 138.8,1007.8" fill="#222"/>
<line x1="169.2" y1="1006.3" x2="162.8" y2="1006.3" stroke="#222" stroke-width="0.8"/>
<polygon points="161.8,1006.3 165.4,1004.8 165.4,1007.8" fill="#222"/>
<line x1="119" y1="1040.4" x2="139.4" y2="1040.4" stroke="#444" stroke-width="0.9" stroke-dasharray="1.6 1.2"/>
<line x1="119" y1="1052" x2="139.4" y2="1052" stroke="#444" stroke-width="0.9" stroke-dasharray="1.6 1.2"/>
<text transform="translate(120.3,1049) scale(0.98,1)" font-size="8.3" fill="#222">2.5m</text>
<line x1="129.3" y1="1033.2" x2="129.3" y2="1039" stroke="#222" stroke-width="0.8"/>
<polygon points="129.3,1040 127.8,1036.8 130.8,1036.8" fill="#222"/>
<line x1="129.3" y1="1059.2" x2="129.3" y2="1053.4" stroke="#222" stroke-width="0.8"/>
<polygon points="129.3,1052.4 127.8,1055.6 130.8,1055.6" fill="#222"/>
<text transform="translate(198.8,1019.6)" font-size="8.2" font-weight="bold" fill="#111">F2</text>
<circle cx="215.25" cy="1012.5" r="3.2" fill="#000"/>
<text transform="translate(224,1015.6)" font-size="8.8" font-weight="bold" fill="#111">88t</text>
<rect x="212.35" y="1020.9" width="5.8" height="5.9" fill="#000"/>
<text transform="translate(224,1026.4)" font-size="8.8" font-weight="bold" fill="#111">118t</text>
<text transform="translate(198.8,1053.8)" font-size="8.2" font-weight="bold" fill="#111">F3</text>
<circle cx="215.25" cy="1046.6" r="3.2" fill="#000"/>
<text transform="translate(224,1049.6)" font-size="8.8" font-weight="bold" fill="#111">54t</text>
<rect x="212.35" y="1055" width="5.8" height="5.9" fill="#000"/>
<text transform="translate(224,1061)" font-size="8.8" font-weight="bold" fill="#111">90t</text>
<g transform="translate(198.2,1076.5)">
<path d="M0 8 L2.1 2 Q2.8 0.1 4.4 0.1 H6.5 Q8.1 0.1 8.8 2 L10.9 8 H7.9 L7 3.4 Q6.8 2.4 6 2.4 H4.9 Q4.1 2.4 3.9 3.4 L3 8Z" fill="#222"/>
<path d="M3 8 L3.9 3.4 Q4.1 2.4 4.9 2.4 H6 Q6.8 2.4 7 3.4 L7.9 8Z" fill="#ededed"/>
<path d="M3.4 1.3 Q5.45 0.3 7.5 1.3 L7.2 2.6 Q5.45 1.9 3.7 2.6Z" fill="#777"/>
</g>
<text transform="translate(224,1083.6)" font-size="8.8" font-weight="bold" fill="#111">41t</text>
<text transform="translate(121,1167.4)" font-size="8.8" font-weight="bold" fill="#111">F2</text>
<line x1="134" y1="1160.8" x2="134" y2="1165.4" stroke="#111" stroke-width="1.1"/>
<polygon points="134,1167.6 132.4,1164.4 135.6,1164.4" fill="#111"/>
<line x1="170.7" y1="1163.2" x2="170.7" y2="1167.6" stroke="#111" stroke-width="1.1"/>
<polygon points="170.7,1160.6 169.1,1163.8 172.3,1163.8" fill="#111"/>
<text transform="translate(175.1,1167.4)" font-size="8.8" font-weight="bold" fill="#111">F3</text>
<rect x="270.9" y="938.3" width="18.8" height="180.7" fill="#f9ae1e" stroke="#3a2a08" stroke-width="1.3"/>
<text transform="translate(280.3,947.06) scale(0.95,1)" font-size="8.8" text-anchor="middle" fill="#1c1203" stroke="#1c1203" stroke-width="0.25">14</text>
<text transform="translate(303.9,947.06) scale(0.95,1)" font-size="8.3" text-anchor="middle" fill="#111">40</text>
<line x1="270.9" y1="949.66" x2="289.7" y2="949.66" stroke="#3a2a08" stroke-width="1.3"/>
<text transform="translate(280.3,958.43) scale(0.95,1)" font-size="8.8" text-anchor="middle" fill="#1c1203" stroke="#1c1203" stroke-width="0.25">13</text>
<text transform="translate(303.9,958.43) scale(0.95,1)" font-size="8.3" text-anchor="middle" fill="#111">37.5</text>
<line x1="270.9" y1="961.03" x2="289.7" y2="961.03" stroke="#3a2a08" stroke-width="1.3"/>
<text transform="translate(280.3,969.79) scale(0.95,1)" font-size="8.8" text-anchor="middle" fill="#1c1203" stroke="#1c1203" stroke-width="0.25">12</text>
<text transform="translate(303.9,969.79) scale(0.95,1)" font-size="8.3" text-anchor="middle" fill="#111">35</text>
<line x1="270.9" y1="972.39" x2="289.7" y2="972.39" stroke="#3a2a08" stroke-width="1.3"/>
<text transform="translate(280.3,981.16) scale(0.95,1)" font-size="8.8" text-anchor="middle" fill="#1c1203" stroke="#1c1203" stroke-width="0.25">11</text>
<text transform="translate(303.9,981.16) scale(0.95,1)" font-size="8.3" text-anchor="middle" fill="#111">32.5</text>
<line x1="270.9" y1="983.76" x2="289.7" y2="983.76" stroke="#3a2a08" stroke-width="1.3"/>
<text transform="translate(280.3,992.52) scale(0.95,1)" font-size="8.8" text-anchor="middle" fill="#1c1203" stroke="#1c1203" stroke-width="0.25">10</text>
<text transform="translate(303.9,992.52) scale(0.95,1)" font-size="8.3" text-anchor="middle" fill="#111">30</text>
<line x1="270.9" y1="995.12" x2="289.7" y2="995.12" stroke="#3a2a08" stroke-width="1.3"/>
<text transform="translate(280.3,1003.89) scale(0.95,1)" font-size="8.8" text-anchor="middle" fill="#1c1203" stroke="#1c1203" stroke-width="0.25">9</text>
<text transform="translate(303.9,1003.89) scale(0.95,1)" font-size="8.3" text-anchor="middle" fill="#111">27.5</text>
<line x1="270.9" y1="1006.49" x2="289.7" y2="1006.49" stroke="#3a2a08" stroke-width="1.3"/>
<text transform="translate(280.3,1015.25) scale(0.95,1)" font-size="8.8" text-anchor="middle" fill="#1c1203" stroke="#1c1203" stroke-width="0.25">8</text>
<text transform="translate(303.9,1015.25) scale(0.95,1)" font-size="8.3" text-anchor="middle" fill="#111">25</text>
<line x1="270.9" y1="1017.85" x2="289.7" y2="1017.85" stroke="#3a2a08" stroke-width="1.3"/>
<text transform="translate(280.3,1026.61) scale(0.95,1)" font-size="8.8" text-anchor="middle" fill="#1c1203" stroke="#1c1203" stroke-width="0.25">7</text>
<text transform="translate(303.9,1026.61) scale(0.95,1)" font-size="8.3" text-anchor="middle" fill="#111">22.5</text>
<line x1="270.9" y1="1029.21" x2="289.7" y2="1029.21" stroke="#3a2a08" stroke-width="1.3"/>
<text transform="translate(280.3,1037.98) scale(0.95,1)" font-size="8.8" text-anchor="middle" fill="#1c1203" stroke="#1c1203" stroke-width="0.25">6</text>
<text transform="translate(303.9,1037.98) scale(0.95,1)" font-size="8.3" text-anchor="middle" fill="#111">20</text>
<line x1="270.9" y1="1040.58" x2="289.7" y2="1040.58" stroke="#3a2a08" stroke-width="1.3"/>
<text transform="translate(280.3,1049.34) scale(0.95,1)" font-size="8.8" text-anchor="middle" fill="#1c1203" stroke="#1c1203" stroke-width="0.25">5</text>
<text transform="translate(303.9,1049.34) scale(0.95,1)" font-size="8.3" text-anchor="middle" fill="#111">17.5</text>
<line x1="270.9" y1="1051.94" x2="289.7" y2="1051.94" stroke="#3a2a08" stroke-width="1.3"/>
<text transform="translate(280.3,1060.71) scale(0.95,1)" font-size="8.8" text-anchor="middle" fill="#1c1203" stroke="#1c1203" stroke-width="0.25">4</text>
<text transform="translate(303.9,1060.71) scale(0.95,1)" font-size="8.3" text-anchor="middle" fill="#111">15</text>
<line x1="270.9" y1="1063.31" x2="289.7" y2="1063.31" stroke="#3a2a08" stroke-width="1.3"/>
<text transform="translate(280.3,1072.07) scale(0.95,1)" font-size="8.8" text-anchor="middle" fill="#1c1203" stroke="#1c1203" stroke-width="0.25">3</text>
<text transform="translate(303.9,1072.07) scale(0.95,1)" font-size="8.3" text-anchor="middle" fill="#111">12.5</text>
<line x1="270.9" y1="1074.67" x2="289.7" y2="1074.67" stroke="#3a2a08" stroke-width="1.3"/>
<text transform="translate(280.3,1083.44) scale(0.95,1)" font-size="8.8" text-anchor="middle" fill="#1c1203" stroke="#1c1203" stroke-width="0.25">2</text>
<text transform="translate(303.9,1083.44) scale(0.95,1)" font-size="8.3" text-anchor="middle" fill="#111">10</text>
<line x1="270.9" y1="1086.04" x2="289.7" y2="1086.04" stroke="#3a2a08" stroke-width="1.3"/>
<text transform="translate(280.3,1094.8) scale(0.95,1)" font-size="8.8" text-anchor="middle" fill="#1c1203" stroke="#1c1203" stroke-width="0.25">1</text>
<text transform="translate(303.9,1094.8) scale(0.95,1)" font-size="8.3" text-anchor="middle" fill="#111">7.5</text>
<line x1="270.9" y1="1097.4" x2="289.7" y2="1097.4" stroke="#3a2a08" stroke-width="1.3"/>
<text transform="translate(294.7,935.4)" font-size="8.3" fill="#111">H(m)</text>
<polyline points="270.9,1119 242.4,1129.8 317.9,1129.8 289.7,1119" fill="none" stroke="#1a1a1a" stroke-width="1.1"/>
<rect x="242.4" y="1129.8" width="75.5" height="12.4" fill="#fff" stroke="#1a1a1a" stroke-width="1.3" rx="0.8"/>
<line x1="242.4" y1="1130" x2="317.9" y2="1130" stroke="#111" stroke-width="1.9"/>
<circle cx="253.6" cy="1148.7" r="2.6" fill="#fff" stroke="#2a2a2a" stroke-width="1.5"/>
<circle cx="261.4" cy="1148.7" r="2.6" fill="#fff" stroke="#2a2a2a" stroke-width="1.5"/>
<circle cx="300.4" cy="1148.7" r="2.6" fill="#fff" stroke="#2a2a2a" stroke-width="1.5"/>
<circle cx="308.3" cy="1148.7" r="2.6" fill="#fff" stroke="#2a2a2a" stroke-width="1.5"/>
<line x1="243" y1="1153.5" x2="317.6" y2="1153.5" stroke="#333" stroke-width="1.2"/>
<line x1="256.2" y1="1155" x2="256.2" y2="1163.4" stroke="#333" stroke-width="0.9"/>
<line x1="305.2" y1="1155" x2="305.2" y2="1163.4" stroke="#333" stroke-width="0.9"/>
<line x1="262.5" y1="1159" x2="258.3" y2="1159" stroke="#333" stroke-width="0.8"/>
<polygon points="257.3,1159 260.9,1157.5 260.9,1160.5" fill="#333"/>
<line x1="298.9" y1="1159" x2="303.1" y2="1159" stroke="#333" stroke-width="0.8"/>
<polygon points="304.1,1159 300.5,1157.5 300.5,1160.5" fill="#333"/>
<text transform="translate(280.7,1162)" font-size="8.6" text-anchor="middle" fill="#222">6.0x6.0</text>
<line x1="247.8" y1="1028.6" x2="268" y2="1028.6" stroke="#444" stroke-width="0.9" stroke-dasharray="1.6 1.2"/>
<line x1="247.8" y1="1040" x2="268" y2="1040" stroke="#444" stroke-width="0.9" stroke-dasharray="1.6 1.2"/>
<text transform="translate(248.8,1037.7) scale(0.98,1)" font-size="8.3" fill="#222">2.5m</text>
<line x1="257.6" y1="1021.6" x2="257.6" y2="1027.2" stroke="#222" stroke-width="0.8"/>
<polygon points="257.6,1028.2 256.1,1025 259.1,1025" fill="#222"/>
<line x1="257.6" y1="1047.2" x2="257.6" y2="1041.4" stroke="#222" stroke-width="0.8"/>
<polygon points="257.6,1040.4 256.1,1043.6 259.1,1043.6" fill="#222"/>
<line x1="247.8" y1="1097.7" x2="267" y2="1097.7" stroke="#444" stroke-width="0.9" stroke-dasharray="1.6 1.2"/>
<line x1="247.8" y1="1118.9" x2="267" y2="1118.9" stroke="#444" stroke-width="0.9" stroke-dasharray="1.6 1.2"/>
<text transform="translate(251.5,1110.4)" font-size="8.3" fill="#222">5m</text>
<line x1="257.6" y1="1089.9" x2="257.6" y2="1096.3" stroke="#222" stroke-width="0.8"/>
<polygon points="257.6,1097.3 256.1,1094.1 259.1,1094.1" fill="#222"/>
<line x1="257.6" y1="1125.4" x2="257.6" y2="1120.4" stroke="#222" stroke-width="0.8"/>
<polygon points="257.6,1119.4 256.1,1122.6 259.1,1122.6" fill="#222"/>
<text transform="translate(327.2,1031)" font-size="8.2" font-weight="bold" fill="#111">F1</text>
<circle cx="343.2" cy="1023.7" r="3.2" fill="#000"/>
<text transform="translate(349.9,1026.8)" font-size="8.8" font-weight="bold" fill="#111">66t</text>
<rect x="340.3" y="1032.7" width="5.8" height="5.9" fill="#000"/>
<text transform="translate(349.9,1038.4)" font-size="8.8" font-weight="bold" fill="#111">85t</text>
<g transform="translate(326.6,1053.8)">
<path d="M0 8 L2.1 2 Q2.8 0.1 4.4 0.1 H6.5 Q8.1 0.1 8.8 2 L10.9 8 H7.9 L7 3.4 Q6.8 2.4 6 2.4 H4.9 Q4.1 2.4 3.9 3.4 L3 8Z" fill="#222"/>
<path d="M3 8 L3.9 3.4 Q4.1 2.4 4.9 2.4 H6 Q6.8 2.4 7 3.4 L7.9 8Z" fill="#ededed"/>
<path d="M3.4 1.3 Q5.45 0.3 7.5 1.3 L7.2 2.6 Q5.45 1.9 3.7 2.6Z" fill="#777"/>
</g>
<text transform="translate(349.9,1062.2)" font-size="8.8" font-weight="bold" fill="#111">51t</text>
<line x1="275.9" y1="1167.6" x2="275.9" y2="1172" stroke="#111" stroke-width="1.1"/>
<polygon points="275.9,1174.2 274.3,1171 277.5,1171" fill="#111"/>
<text transform="translate(280.5,1174)" font-size="8.8" font-weight="bold" fill="#111">F1</text>
<rect x="370.4" y="1130.8" width="74.3" height="22.2" fill="#69808a"/>
<line x1="370.4" y1="1152.6" x2="444.7" y2="1152.6" stroke="#5a6f78" stroke-width="0.8"/>
<line x1="346" y1="1130.7" x2="465" y2="1130.7" stroke="#2f3e44" stroke-width="1.5"/>
<line x1="398.4" y1="1131" x2="398.4" y2="1139.2" stroke="#27343b" stroke-width="1.2"/>
<line x1="394.6" y1="1139.2" x2="402.2" y2="1139.2" stroke="#27343b" stroke-width="1.2"/>
<line x1="416.7" y1="1131" x2="416.7" y2="1139.2" stroke="#27343b" stroke-width="1.2"/>
<line x1="412.9" y1="1139.2" x2="420.5" y2="1139.2" stroke="#27343b" stroke-width="1.2"/>
<rect x="398" y="972.3" width="19" height="158.7" fill="#f9ae1e" stroke="#3a2a08" stroke-width="1.3"/>
<text transform="translate(407.5,981.07) scale(0.95,1)" font-size="8.8" text-anchor="middle" fill="#1c1203" stroke="#1c1203" stroke-width="0.25">11</text>
<text transform="translate(431,981.07) scale(0.95,1)" font-size="8.3" text-anchor="middle" fill="#111">40.5</text>
<line x1="398" y1="983.67" x2="417" y2="983.67" stroke="#3a2a08" stroke-width="1.3"/>
<text transform="translate(407.5,992.45) scale(0.95,1)" font-size="8.8" text-anchor="middle" fill="#1c1203" stroke="#1c1203" stroke-width="0.25">10</text>
<text transform="translate(431,992.45) scale(0.95,1)" font-size="8.3" text-anchor="middle" fill="#111">37.5</text>
<line x1="398" y1="995.05" x2="417" y2="995.05" stroke="#3a2a08" stroke-width="1.3"/>
<text transform="translate(407.5,1003.82) scale(0.95,1)" font-size="8.8" text-anchor="middle" fill="#1c1203" stroke="#1c1203" stroke-width="0.25">9</text>
<text transform="translate(431,1003.82) scale(0.95,1)" font-size="8.3" text-anchor="middle" fill="#111">34.5</text>
<line x1="398" y1="1006.42" x2="417" y2="1006.42" stroke="#3a2a08" stroke-width="1.3"/>
<text transform="translate(407.5,1015.19) scale(0.95,1)" font-size="8.8" text-anchor="middle" fill="#1c1203" stroke="#1c1203" stroke-width="0.25">8</text>
<text transform="translate(431,1015.19) scale(0.95,1)" font-size="8.3" text-anchor="middle" fill="#111">31.5</text>
<line x1="398" y1="1017.79" x2="417" y2="1017.79" stroke="#3a2a08" stroke-width="1.3"/>
<text transform="translate(407.5,1026.56) scale(0.95,1)" font-size="8.8" text-anchor="middle" fill="#1c1203" stroke="#1c1203" stroke-width="0.25">7</text>
<text transform="translate(431,1026.56) scale(0.95,1)" font-size="8.3" text-anchor="middle" fill="#111">28.5</text>
<line x1="398" y1="1029.16" x2="417" y2="1029.16" stroke="#3a2a08" stroke-width="1.3"/>
<text transform="translate(407.5,1037.94) scale(0.95,1)" font-size="8.8" text-anchor="middle" fill="#1c1203" stroke="#1c1203" stroke-width="0.25">6</text>
<text transform="translate(431,1037.94) scale(0.95,1)" font-size="8.3" text-anchor="middle" fill="#111">25.5</text>
<line x1="398" y1="1040.54" x2="417" y2="1040.54" stroke="#3a2a08" stroke-width="1.3"/>
<text transform="translate(407.5,1049.31) scale(0.95,1)" font-size="8.8" text-anchor="middle" fill="#1c1203" stroke="#1c1203" stroke-width="0.25">5</text>
<text transform="translate(431,1049.31) scale(0.95,1)" font-size="8.3" text-anchor="middle" fill="#111">22.5</text>
<line x1="398" y1="1051.91" x2="417" y2="1051.91" stroke="#3a2a08" stroke-width="1.3"/>
<text transform="translate(407.5,1060.68) scale(0.95,1)" font-size="8.8" text-anchor="middle" fill="#1c1203" stroke="#1c1203" stroke-width="0.25">4</text>
<text transform="translate(431,1060.68) scale(0.95,1)" font-size="8.3" text-anchor="middle" fill="#111">19.5</text>
<line x1="398" y1="1063.28" x2="417" y2="1063.28" stroke="#3a2a08" stroke-width="1.3"/>
<text transform="translate(407.5,1072.05) scale(0.95,1)" font-size="8.8" text-anchor="middle" fill="#1c1203" stroke="#1c1203" stroke-width="0.25">3</text>
<text transform="translate(431,1072.05) scale(0.95,1)" font-size="8.3" text-anchor="middle" fill="#111">16.5</text>
<line x1="398" y1="1074.65" x2="417" y2="1074.65" stroke="#3a2a08" stroke-width="1.3"/>
<text transform="translate(407.5,1083.43) scale(0.95,1)" font-size="8.8" text-anchor="middle" fill="#1c1203" stroke="#1c1203" stroke-width="0.25">2</text>
<text transform="translate(431,1083.43) scale(0.95,1)" font-size="8.3" text-anchor="middle" fill="#111">13.5</text>
<line x1="398" y1="1086.03" x2="417" y2="1086.03" stroke="#3a2a08" stroke-width="1.3"/>
<text transform="translate(407.5,1094.8) scale(0.95,1)" font-size="8.8" text-anchor="middle" fill="#1c1203" stroke="#1c1203" stroke-width="0.25">1</text>
<text transform="translate(431,1094.8) scale(0.95,1)" font-size="8.3" text-anchor="middle" fill="#111">10.5</text>
<line x1="398" y1="1097.4" x2="417" y2="1097.4" stroke="#3a2a08" stroke-width="1.3"/>
<text transform="translate(386.4,935) scale(0.97,1)" font-size="8.3" fill="#111">Mast L46A1</text>
<text transform="translate(422,958.7)" font-size="8.3" fill="#111">H(m)</text>
<text transform="translate(368,1003.7) scale(0.96,1)" font-size="8.3" fill="#222">1.6x1.6</text>
<line x1="364" y1="1006.3" x2="395" y2="1006.3" stroke="#333" stroke-width="0.9"/>
<line x1="392.6" y1="1006.3" x2="396.6" y2="1006.3" stroke="#222" stroke-width="0.8"/>
<polygon points="397.6,1006.3 394,1004.8 394,1007.8" fill="#222"/>
<line x1="424.8" y1="1006.3" x2="418.4" y2="1006.3" stroke="#222" stroke-width="0.8"/>
<polygon points="417.4,1006.3 421,1004.8 421,1007.8" fill="#222"/>
<line x1="375.3" y1="1040.4" x2="395.4" y2="1040.4" stroke="#444" stroke-width="0.9" stroke-dasharray="1.6 1.2"/>
<line x1="375.3" y1="1051.8" x2="395.4" y2="1051.8" stroke="#444" stroke-width="0.9" stroke-dasharray="1.6 1.2"/>
<text transform="translate(379.3,1049)" font-size="8.3" fill="#222">3m</text>
<line x1="385.7" y1="1033.2" x2="385.7" y2="1039" stroke="#222" stroke-width="0.8"/>
<polygon points="385.7,1040 384.2,1036.8 387.2,1036.8" fill="#222"/>
<line x1="385.7" y1="1059" x2="385.7" y2="1053.2" stroke="#222" stroke-width="0.8"/>
<polygon points="385.7,1052.2 384.2,1055.4 387.2,1055.4" fill="#222"/>
<line x1="372.7" y1="1097.4" x2="393" y2="1097.4" stroke="#444" stroke-width="0.9" stroke-dasharray="1.6 1.2"/>
<line x1="383" y1="1090.6" x2="383" y2="1096" stroke="#222" stroke-width="0.8"/>
<polygon points="383,1097 381.5,1093.8 384.5,1093.8" fill="#222"/>
<text transform="translate(375.7,1116.4) scale(0.98,1)" font-size="8.3" fill="#222">7.5m</text>
<line x1="383" y1="1138" x2="383" y2="1133.2" stroke="#222" stroke-width="0.8"/>
<polygon points="383,1132.2 381.5,1135.4 384.5,1135.4" fill="#222"/>
<text transform="translate(454,1009)" font-size="8.2" font-weight="bold" fill="#111">F2</text>
<circle cx="470.4" cy="1002" r="3.2" fill="#000"/>
<text transform="translate(478.4,1005.3)" font-size="8.8" font-weight="bold" fill="#111">92t</text>
<rect x="467.5" y="1011" width="5.8" height="5.9" fill="#000"/>
<text transform="translate(478.4,1016.4)" font-size="8.8" font-weight="bold" fill="#111">123t</text>
<text transform="translate(454,1043)" font-size="8.2" font-weight="bold" fill="#111">F3</text>
<circle cx="470.4" cy="1036.3" r="3.2" fill="#000"/>
<text transform="translate(478.4,1039.3)" font-size="8.8" font-weight="bold" fill="#111">57t</text>
<rect x="467.5" y="1045" width="5.8" height="5.9" fill="#000"/>
<text transform="translate(478.4,1050.5)" font-size="8.8" font-weight="bold" fill="#111">95t</text>
<g transform="translate(454,1066)">
<path d="M0 8 L2.1 2 Q2.8 0.1 4.4 0.1 H6.5 Q8.1 0.1 8.8 2 L10.9 8 H7.9 L7 3.4 Q6.8 2.4 6 2.4 H4.9 Q4.1 2.4 3.9 3.4 L3 8Z" fill="#222"/>
<path d="M3 8 L3.9 3.4 Q4.1 2.4 4.9 2.4 H6 Q6.8 2.4 7 3.4 L7.9 8Z" fill="#ededed"/>
<path d="M3.4 1.3 Q5.45 0.3 7.5 1.3 L7.2 2.6 Q5.45 1.9 3.7 2.6Z" fill="#777"/>
</g>
<text transform="translate(478.4,1073)" font-size="8.8" font-weight="bold" fill="#111">46t</text>
<text transform="translate(376.3,1167.6)" font-size="8.8" font-weight="bold" fill="#111">F2</text>
<line x1="389.3" y1="1161" x2="389.3" y2="1165.6" stroke="#111" stroke-width="1.1"/>
<polygon points="389.3,1167.8 387.7,1164.6 390.9,1164.6" fill="#111"/>
<line x1="426" y1="1163.4" x2="426" y2="1167.8" stroke="#111" stroke-width="1.1"/>
<polygon points="426,1160.8 424.4,1164 427.6,1164" fill="#111"/>
<text transform="translate(430.4,1167.6)" font-size="8.8" font-weight="bold" fill="#111">F3</text>
<rect x="526.7" y="972.3" width="18.7" height="147" fill="#f9ae1e" stroke="#3a2a08" stroke-width="1.3"/>
<text transform="translate(536.05,981.05) scale(0.95,1)" font-size="8.8" text-anchor="middle" fill="#1c1203" stroke="#1c1203" stroke-width="0.25">10</text>
<text transform="translate(559.7,981.05) scale(0.95,1)" font-size="8.3" text-anchor="middle" fill="#111">42.5</text>
<line x1="526.7" y1="983.65" x2="545.4" y2="983.65" stroke="#3a2a08" stroke-width="1.3"/>
<text transform="translate(536.05,992.4) scale(0.95,1)" font-size="8.8" text-anchor="middle" fill="#1c1203" stroke="#1c1203" stroke-width="0.25">9</text>
<text transform="translate(559.7,992.4) scale(0.95,1)" font-size="8.3" text-anchor="middle" fill="#111">39.5</text>
<line x1="526.7" y1="995" x2="545.4" y2="995" stroke="#3a2a08" stroke-width="1.3"/>
<text transform="translate(536.05,1003.75) scale(0.95,1)" font-size="8.8" text-anchor="middle" fill="#1c1203" stroke="#1c1203" stroke-width="0.25">8</text>
<text transform="translate(559.7,1003.75) scale(0.95,1)" font-size="8.3" text-anchor="middle" fill="#111">36.5</text>
<line x1="526.7" y1="1006.35" x2="545.4" y2="1006.35" stroke="#3a2a08" stroke-width="1.3"/>
<text transform="translate(536.05,1015.1) scale(0.95,1)" font-size="8.8" text-anchor="middle" fill="#1c1203" stroke="#1c1203" stroke-width="0.25">7</text>
<text transform="translate(559.7,1015.1) scale(0.95,1)" font-size="8.3" text-anchor="middle" fill="#111">33.5</text>
<line x1="526.7" y1="1017.7" x2="545.4" y2="1017.7" stroke="#3a2a08" stroke-width="1.3"/>
<text transform="translate(536.05,1026.45) scale(0.95,1)" font-size="8.8" text-anchor="middle" fill="#1c1203" stroke="#1c1203" stroke-width="0.25">6</text>
<text transform="translate(559.7,1026.45) scale(0.95,1)" font-size="8.3" text-anchor="middle" fill="#111">30.5</text>
<line x1="526.7" y1="1029.05" x2="545.4" y2="1029.05" stroke="#3a2a08" stroke-width="1.3"/>
<text transform="translate(536.05,1037.8) scale(0.95,1)" font-size="8.8" text-anchor="middle" fill="#1c1203" stroke="#1c1203" stroke-width="0.25">5</text>
<text transform="translate(559.7,1037.8) scale(0.95,1)" font-size="8.3" text-anchor="middle" fill="#111">27.5</text>
<line x1="526.7" y1="1040.4" x2="545.4" y2="1040.4" stroke="#3a2a08" stroke-width="1.3"/>
<text transform="translate(536.05,1049.15) scale(0.95,1)" font-size="8.8" text-anchor="middle" fill="#1c1203" stroke="#1c1203" stroke-width="0.25">4</text>
<text transform="translate(559.7,1049.15) scale(0.95,1)" font-size="8.3" text-anchor="middle" fill="#111">24.5</text>
<line x1="526.7" y1="1051.75" x2="545.4" y2="1051.75" stroke="#3a2a08" stroke-width="1.3"/>
<text transform="translate(536.05,1060.5) scale(0.95,1)" font-size="8.8" text-anchor="middle" fill="#1c1203" stroke="#1c1203" stroke-width="0.25">3</text>
<text transform="translate(559.7,1060.5) scale(0.95,1)" font-size="8.3" text-anchor="middle" fill="#111">21.5</text>
<line x1="526.7" y1="1063.1" x2="545.4" y2="1063.1" stroke="#3a2a08" stroke-width="1.3"/>
<text transform="translate(536.05,1071.85) scale(0.95,1)" font-size="8.8" text-anchor="middle" fill="#1c1203" stroke="#1c1203" stroke-width="0.25">2</text>
<text transform="translate(559.7,1071.85) scale(0.95,1)" font-size="8.3" text-anchor="middle" fill="#111">18.5</text>
<line x1="526.7" y1="1074.45" x2="545.4" y2="1074.45" stroke="#3a2a08" stroke-width="1.3"/>
<text transform="translate(536.05,1083.2) scale(0.95,1)" font-size="8.8" text-anchor="middle" fill="#1c1203" stroke="#1c1203" stroke-width="0.25">1</text>
<text transform="translate(559.7,1083.2) scale(0.95,1)" font-size="8.3" text-anchor="middle" fill="#111">15.5</text>
<line x1="526.7" y1="1085.8" x2="545.4" y2="1085.8" stroke="#3a2a08" stroke-width="1.3"/>
<text transform="translate(515,935) scale(0.97,1)" font-size="8.3" fill="#111">Mast L46A1</text>
<text transform="translate(551,958.7)" font-size="8.3" fill="#111">H(m)</text>
<polyline points="526.7,1119.3 498.7,1129.8 573.3,1129.8 545.4,1119.3" fill="none" stroke="#1a1a1a" stroke-width="1.1"/>
<rect x="498.7" y="1129.8" width="74.6" height="12.4" fill="#fff" stroke="#1a1a1a" stroke-width="1.3" rx="0.8"/>
<line x1="498.7" y1="1130" x2="573.3" y2="1130" stroke="#111" stroke-width="1.9"/>
<circle cx="509.3" cy="1148.7" r="2.6" fill="#fff" stroke="#2a2a2a" stroke-width="1.5"/>
<circle cx="517.6" cy="1148.7" r="2.6" fill="#fff" stroke="#2a2a2a" stroke-width="1.5"/>
<circle cx="555.6" cy="1148.7" r="2.6" fill="#fff" stroke="#2a2a2a" stroke-width="1.5"/>
<circle cx="564" cy="1148.7" r="2.6" fill="#fff" stroke="#2a2a2a" stroke-width="1.5"/>
<line x1="476" y1="1153.5" x2="594" y2="1153.5" stroke="#333" stroke-width="1.2"/>
<line x1="511.8" y1="1155" x2="511.8" y2="1163.4" stroke="#333" stroke-width="0.9"/>
<line x1="561.5" y1="1155" x2="561.5" y2="1163.4" stroke="#333" stroke-width="0.9"/>
<line x1="518.1" y1="1159" x2="513.9" y2="1159" stroke="#333" stroke-width="0.8"/>
<polygon points="512.9,1159 516.5,1157.5 516.5,1160.5" fill="#333"/>
<line x1="555.2" y1="1159" x2="559.4" y2="1159" stroke="#333" stroke-width="0.8"/>
<polygon points="560.4,1159 556.8,1157.5 556.8,1160.5" fill="#333"/>
<text transform="translate(536.65,1162)" font-size="8.6" text-anchor="middle" fill="#222">6.0x6.0</text>
<line x1="503.7" y1="1028.7" x2="523.8" y2="1028.7" stroke="#444" stroke-width="0.9" stroke-dasharray="1.6 1.2"/>
<line x1="503.7" y1="1040" x2="523.8" y2="1040" stroke="#444" stroke-width="0.9" stroke-dasharray="1.6 1.2"/>
<text transform="translate(508,1037.6)" font-size="8.3" fill="#222">3m</text>
<line x1="514" y1="1021.7" x2="514" y2="1027.3" stroke="#222" stroke-width="0.8"/>
<polygon points="514,1028.3 512.5,1025.1 515.5,1025.1" fill="#222"/>
<line x1="514" y1="1047.2" x2="514" y2="1041.4" stroke="#222" stroke-width="0.8"/>
<polygon points="514,1040.4 512.5,1043.6 515.5,1043.6" fill="#222"/>
<line x1="476" y1="1085.8" x2="524" y2="1085.8" stroke="#444" stroke-width="0.9" stroke-dasharray="1.6 1.2"/>
<line x1="487" y1="1078.8" x2="487" y2="1084.4" stroke="#222" stroke-width="0.8"/>
<polygon points="487,1085.4 485.5,1082.2 488.5,1082.2" fill="#222"/>
<line x1="514" y1="1078.8" x2="514" y2="1084.4" stroke="#222" stroke-width="0.8"/>
<polygon points="514,1085.4 512.5,1082.2 515.5,1082.2" fill="#222"/>
<text transform="translate(501,1105.3) scale(0.98,1)" font-size="8.3" fill="#222">7.5m</text>
<text transform="translate(477.7,1121.3) scale(0.98,1)" font-size="8.3" fill="#222">12.5m</text>
<line x1="503" y1="1119.3" x2="526" y2="1119.3" stroke="#444" stroke-width="0.9" stroke-dasharray="1.6 1.2"/>
<line x1="514" y1="1125.8" x2="514" y2="1120.8" stroke="#222" stroke-width="0.8"/>
<polygon points="514,1119.8 512.5,1123 515.5,1123" fill="#222"/>
<line x1="487" y1="1160.6" x2="487" y2="1155.4" stroke="#222" stroke-width="0.8"/>
<polygon points="487,1154.4 485.5,1157.6 488.5,1157.6" fill="#222"/>
<text transform="translate(582.7,1031)" font-size="8.2" font-weight="bold" fill="#111">F1</text>
<circle cx="599" cy="1024" r="3.2" fill="#000"/>
<text transform="translate(605.3,1026.8)" font-size="8.8" font-weight="bold" fill="#111">70t</text>
<rect x="596.1" y="1032.7" width="5.8" height="5.9" fill="#000"/>
<text transform="translate(605.3,1038.4)" font-size="8.8" font-weight="bold" fill="#111">88t</text>
<g transform="translate(582,1053.6)">
<path d="M0 8 L2.1 2 Q2.8 0.1 4.4 0.1 H6.5 Q8.1 0.1 8.8 2 L10.9 8 H7.9 L7 3.4 Q6.8 2.4 6 2.4 H4.9 Q4.1 2.4 3.9 3.4 L3 8Z" fill="#222"/>
<path d="M3 8 L3.9 3.4 Q4.1 2.4 4.9 2.4 H6 Q6.8 2.4 7 3.4 L7.9 8Z" fill="#ededed"/>
<path d="M3.4 1.3 Q5.45 0.3 7.5 1.3 L7.2 2.6 Q5.45 1.9 3.7 2.6Z" fill="#777"/>
</g>
<text transform="translate(605.3,1061.4)" font-size="8.8" font-weight="bold" fill="#111">56t</text>
<line x1="531.3" y1="1167.4" x2="531.3" y2="1171.8" stroke="#111" stroke-width="1.1"/>
<polygon points="531.3,1174 529.7,1170.8 532.9,1170.8" fill="#111"/>
<text transform="translate(535.9,1173.8)" font-size="8.8" font-weight="bold" fill="#111">F1</text>
<polygon points="676.2,869.6 688.4,869.6 682.3,880.3" fill="#b30c0c"/>
<text x="694.6" y="881.8" font-size="13.9" font-weight="bold" letter-spacing="-0.3" fill="#b01515">机构特性</text>
<text transform="translate(759.4,881.2)" font-size="14.4" fill="#111">Mechanism</text>
<circle cx="689" cy="970.2" r="5" fill="#000"/>
<polygon points="689,956.2 685.6,960.8 692.4,960.8" fill="#000"/>
<polygon points="689,984.2 685.6,979.2 692.4,979.2" fill="#000"/>
<rect x="683.7" y="1038.8" width="11.3" height="11" fill="#000"/>
<polygon points="675.8,1044.3 681.3,1041.2 681.3,1047.4" fill="#000"/>
<polygon points="702.8,1044.3 697.4,1041.2 697.4,1047.4" fill="#000"/>
<g transform="translate(688.9,1117.6) scale(0.86)" fill="#000"><circle cx="0" cy="0" r="4.7"/><path d="M-5.3 -7.4 Q0 -11.4 5.2 -7.6 Q6.6 -6.4 7 -4.6" fill="none" stroke="#000" stroke-width="1.8" stroke-linecap="round"/><path d="M4.7 7.4 Q-0.6 11 -5.8 7.4 Q-7.2 6.2 -7.6 4.6" fill="none" stroke="#000" stroke-width="1.8" stroke-linecap="round"/><path d="M4.4 -7.2 L7.6 -4 L6.8 -7.6z"/><path d="M-5 7 L-8.2 3.8 L-7.4 7.4z"/></g>
<line x1="679.2" y1="1164.3" x2="699.4" y2="1164.3" stroke="#111" stroke-width="1.2"/>
<line x1="679.8" y1="1168.6" x2="698.8" y2="1168.6" stroke="#111" stroke-width="1"/>
<line x1="681.2" y1="1164.3" x2="681.2" y2="1168.6" stroke="#111" stroke-width="1"/>
<line x1="683.9" y1="1164.3" x2="683.9" y2="1168.6" stroke="#111" stroke-width="1"/>
<line x1="686.6" y1="1164.3" x2="686.6" y2="1168.6" stroke="#111" stroke-width="1"/>
<line x1="689.3" y1="1164.3" x2="689.3" y2="1168.6" stroke="#111" stroke-width="1"/>
<line x1="692" y1="1164.3" x2="692" y2="1168.6" stroke="#111" stroke-width="1"/>
<line x1="694.7" y1="1164.3" x2="694.7" y2="1168.6" stroke="#111" stroke-width="1"/>
<line x1="697.4" y1="1164.3" x2="697.4" y2="1168.6" stroke="#111" stroke-width="1"/>
<circle cx="689.3" cy="1175" r="2.3" fill="none" stroke="#111" stroke-width="1.2"/>
<polygon points="679.4,1175 683,1172.8 683,1177.2" fill="#111"/>
<polygon points="699.2,1175 695.6,1172.8 695.6,1177.2" fill="#111"/>
<rect x="679.6" y="1182" width="19.4" height="4.4" fill="none" stroke="#111" stroke-width="1.2" rx="1.2"/>
<line x1="682.83" y1="1182" x2="682.83" y2="1186.4" stroke="#111" stroke-width="1.1"/>
<line x1="686.07" y1="1182" x2="686.07" y2="1186.4" stroke="#111" stroke-width="1.1"/>
<line x1="689.3" y1="1182" x2="689.3" y2="1186.4" stroke="#111" stroke-width="1.1"/>
<line x1="692.53" y1="1182" x2="692.53" y2="1186.4" stroke="#111" stroke-width="1.1"/>
<line x1="695.77" y1="1182" x2="695.77" y2="1186.4" stroke="#111" stroke-width="1.1"/>
<path d="M678 1211.6 q0.2 -6 5.6 -6.4" fill="none" stroke="#111" stroke-width="1.7" stroke-linecap="round"/>
<path d="M683.6 1204.8 q0.4 -6 6.4 -6 h3 v12.6 h-3 q-6 0 -6.4 -6z" fill="#111"/>
<rect x="692.6" y="1197.6" width="2" height="14.6" fill="#111"/>
<rect x="694" y="1200.6" width="8" height="2.2" fill="#111"/>
<rect x="694" y="1207.2" width="8" height="2.2" fill="#111"/>
<polygon points="116,1257.2 128.2,1257.2 122.1,1267.9" fill="#b30c0c"/>
<text x="134.4" y="1269.4" font-size="13.9" font-weight="bold" letter-spacing="-0.3" fill="#b01515">附着</text>
<text transform="translate(171,1268.8)" font-size="14.4" fill="#111">Anchorages</text>
<text transform="translate(236.4,1302) scale(0.92,1)" font-size="10" fill="#111" stroke="#111" stroke-width="0.22">Mast:1.6&#215;1.6&#215;2.5</text>
<rect x="261.2" y="1484.4" width="15.1" height="57.6" fill="#fbb01f" stroke="#6b4a08" stroke-width="1"/>
<text transform="translate(269.15,1482.2) scale(0.88,1)" font-size="10.2" text-anchor="middle" fill="#111" stroke="#111" stroke-width="0.22">41.5m</text>
<rect x="315.8" y="1450.4" width="15.4" height="91.6" fill="#fbb01f" stroke="#6b4a08" stroke-width="1"/>
<text transform="translate(323.9,1448.2) scale(0.88,1)" font-size="10.2" text-anchor="middle" fill="#111" stroke="#111" stroke-width="0.22">64m</text>
<rect x="370.3" y="1412.8" width="15.5" height="129.2" fill="#fbb01f" stroke="#6b4a08" stroke-width="1"/>
<text transform="translate(378.45,1410.6) scale(0.88,1)" font-size="10.2" text-anchor="middle" fill="#111" stroke="#111" stroke-width="0.22">88m</text>
<rect x="425.2" y="1375.3" width="15.4" height="166.7" fill="#fbb01f" stroke="#6b4a08" stroke-width="1"/>
<text transform="translate(433.3,1373.1) scale(0.88,1)" font-size="10.2" text-anchor="middle" fill="#111" stroke="#111" stroke-width="0.22">112m</text>
<rect x="480" y="1341.6" width="15.5" height="200.4" fill="#fbb01f" stroke="#6b4a08" stroke-width="1"/>
<text transform="translate(488.15,1339.4) scale(0.88,1)" font-size="10.2" text-anchor="middle" fill="#111" stroke="#111" stroke-width="0.22">136m</text>
<rect x="534.6" y="1322.2" width="15.3" height="219.8" fill="#fbb01f" stroke="#6b4a08" stroke-width="1"/>
<text transform="translate(542.65,1320) scale(0.88,1)" font-size="10.2" text-anchor="middle" fill="#111" stroke="#111" stroke-width="0.22">140m</text>
<line x1="299.3" y1="1501.8" x2="299.3" y2="1542" stroke="#222" stroke-width="0.9"/>
<polygon points="299.3,1501.8 297.9,1506.8 300.7,1506.8" fill="#111"/>
<polygon points="299.3,1541.4 297.9,1536.4 300.7,1536.4" fill="#111"/>
<line x1="299.3" y1="1501.8" x2="315.8" y2="1501.8" stroke="#222" stroke-width="0.9"/>
<polygon points="313.2,1501.8 308.2,1500.5 308.2,1503.1" fill="#111"/>
<text transform="translate(297.7,1519.6) rotate(-90) scale(0.78,1)" font-size="10.4" text-anchor="middle" fill="#111" stroke="#111" stroke-width="0.22">31m</text>
<line x1="354.3" y1="1464.3" x2="354.3" y2="1542" stroke="#222" stroke-width="0.9"/>
<polygon points="354.3,1464.3 352.9,1469.3 355.7,1469.3" fill="#111"/>
<polygon points="354.3,1541.4 352.9,1536.4 355.7,1536.4" fill="#111"/>
<line x1="357.3" y1="1501.8" x2="370.3" y2="1501.8" stroke="#222" stroke-width="0.9"/>
<polygon points="367.7,1501.8 362.7,1500.5 362.7,1503.1" fill="#111"/>
<line x1="354.3" y1="1464.3" x2="370.3" y2="1464.3" stroke="#222" stroke-width="0.9"/>
<polygon points="367.7,1464.3 362.7,1463 362.7,1465.6" fill="#111"/>
<text transform="translate(352.7,1501) rotate(-90) scale(0.78,1)" font-size="10.4" text-anchor="middle" fill="#111" stroke="#111" stroke-width="0.22">55m</text>
<line x1="408.8" y1="1426.7" x2="408.8" y2="1542" stroke="#222" stroke-width="0.9"/>
<polygon points="408.8,1426.7 407.4,1431.7 410.2,1431.7" fill="#111"/>
<polygon points="408.8,1541.4 407.4,1536.4 410.2,1536.4" fill="#111"/>
<line x1="411.8" y1="1501.8" x2="425.2" y2="1501.8" stroke="#222" stroke-width="0.9"/>
<polygon points="422.6,1501.8 417.6,1500.5 417.6,1503.1" fill="#111"/>
<line x1="411.8" y1="1464.3" x2="425.2" y2="1464.3" stroke="#222" stroke-width="0.9"/>
<polygon points="422.6,1464.3 417.6,1463 417.6,1465.6" fill="#111"/>
<line x1="408.8" y1="1426.7" x2="425.2" y2="1426.7" stroke="#222" stroke-width="0.9"/>
<polygon points="422.6,1426.7 417.6,1425.4 417.6,1428" fill="#111"/>
<text transform="translate(407.2,1481.6) rotate(-90) scale(0.78,1)" font-size="10.4" text-anchor="middle" fill="#111" stroke="#111" stroke-width="0.22">79m</text>
<line x1="461.9" y1="1389.5" x2="461.9" y2="1542" stroke="#222" stroke-width="0.9"/>
<polygon points="461.9,1389.5 460.5,1394.5 463.3,1394.5" fill="#111"/>
<polygon points="461.9,1541.4 460.5,1536.4 463.3,1536.4" fill="#111"/>
<line x1="464.9" y1="1501.8" x2="480" y2="1501.8" stroke="#222" stroke-width="0.9"/>
<polygon points="477.4,1501.8 472.4,1500.5 472.4,1503.1" fill="#111"/>
<line x1="464.9" y1="1464.3" x2="480" y2="1464.3" stroke="#222" stroke-width="0.9"/>
<polygon points="477.4,1464.3 472.4,1463 472.4,1465.6" fill="#111"/>
<line x1="464.9" y1="1426.7" x2="480" y2="1426.7" stroke="#222" stroke-width="0.9"/>
<polygon points="477.4,1426.7 472.4,1425.4 472.4,1428" fill="#111"/>
<line x1="461.9" y1="1389.5" x2="480" y2="1389.5" stroke="#222" stroke-width="0.9"/>
<polygon points="477.4,1389.5 472.4,1388.2 472.4,1390.8" fill="#111"/>
<text transform="translate(460.3,1463) rotate(-90) scale(0.78,1)" font-size="10.4" text-anchor="middle" fill="#111" stroke="#111" stroke-width="0.22">103m</text>
<line x1="517.3" y1="1352.6" x2="517.3" y2="1542" stroke="#222" stroke-width="0.9"/>
<polygon points="517.3,1352.6 515.9,1357.6 518.7,1357.6" fill="#111"/>
<polygon points="517.3,1541.4 515.9,1536.4 518.7,1536.4" fill="#111"/>
<line x1="520.3" y1="1501.8" x2="534.6" y2="1501.8" stroke="#222" stroke-width="0.9"/>
<polygon points="532,1501.8 527,1500.5 527,1503.1" fill="#111"/>
<line x1="520.3" y1="1464.3" x2="534.6" y2="1464.3" stroke="#222" stroke-width="0.9"/>
<polygon points="532,1464.3 527,1463 527,1465.6" fill="#111"/>
<line x1="520.3" y1="1426.7" x2="534.6" y2="1426.7" stroke="#222" stroke-width="0.9"/>
<polygon points="532,1426.7 527,1425.4 527,1428" fill="#111"/>
<line x1="520.3" y1="1389.5" x2="534.6" y2="1389.5" stroke="#222" stroke-width="0.9"/>
<polygon points="532,1389.5 527,1388.2 527,1390.8" fill="#111"/>
<line x1="517.3" y1="1352.6" x2="534.6" y2="1352.6" stroke="#222" stroke-width="0.9"/>
<polygon points="532,1352.6 527,1351.3 527,1353.9" fill="#111"/>
<text transform="translate(515.7,1446) rotate(-90) scale(0.78,1)" font-size="10.4" text-anchor="middle" fill="#111" stroke="#111" stroke-width="0.22">127m</text>
<text transform="translate(651.9,1302) scale(0.9,1)" font-size="10" fill="#111" stroke="#111" stroke-width="0.22">Mast:L46A1</text>
<rect x="642.4" y="1484.4" width="15.9" height="57.6" fill="#fbb01f" stroke="#6b4a08" stroke-width="1"/>
<text transform="translate(650.75,1482.2) scale(0.88,1)" font-size="10.2" text-anchor="middle" fill="#111" stroke="#111" stroke-width="0.22">40.5m</text>
<rect x="697.4" y="1450.3" width="15.6" height="91.7" fill="#fbb01f" stroke="#6b4a08" stroke-width="1"/>
<text transform="translate(705.6,1448.1) scale(0.88,1)" font-size="10.2" text-anchor="middle" fill="#111" stroke="#111" stroke-width="0.22">66m</text>
<rect x="752" y="1413" width="15.6" height="129" fill="#fbb01f" stroke="#6b4a08" stroke-width="1"/>
<text transform="translate(760.2,1410.8) scale(0.88,1)" font-size="10.2" text-anchor="middle" fill="#111" stroke="#111" stroke-width="0.22">90m</text>
<rect x="806.6" y="1375.3" width="15.6" height="166.7" fill="#fbb01f" stroke="#6b4a08" stroke-width="1"/>
<text transform="translate(814.8,1373.1) scale(0.88,1)" font-size="10.2" text-anchor="middle" fill="#111" stroke="#111" stroke-width="0.22">114m</text>
<rect x="861.2" y="1338.4" width="15.6" height="203.6" fill="#fbb01f" stroke="#6b4a08" stroke-width="1"/>
<text transform="translate(869.4,1336.2) scale(0.88,1)" font-size="10.2" text-anchor="middle" fill="#111" stroke="#111" stroke-width="0.22">138m</text>
<rect x="916.2" y="1322" width="15.6" height="220" fill="#fbb01f" stroke="#6b4a08" stroke-width="1"/>
<text transform="translate(924.4,1319.8) scale(0.88,1)" font-size="10.2" text-anchor="middle" fill="#111" stroke="#111" stroke-width="0.22">162m</text>
<line x1="681.3" y1="1501.8" x2="681.3" y2="1542" stroke="#222" stroke-width="0.9"/>
<polygon points="681.3,1501.8 679.9,1506.8 682.7,1506.8" fill="#111"/>
<polygon points="681.3,1541.4 679.9,1536.4 682.7,1536.4" fill="#111"/>
<line x1="681.3" y1="1501.8" x2="697.4" y2="1501.8" stroke="#222" stroke-width="0.9"/>
<polygon points="694.8,1501.8 689.8,1500.5 689.8,1503.1" fill="#111"/>
<text transform="translate(679.7,1526) rotate(-90) scale(0.78,1)" font-size="10.4" text-anchor="middle" fill="#111" stroke="#111" stroke-width="0.22">33m</text>
<line x1="735.5" y1="1464.3" x2="735.5" y2="1542" stroke="#222" stroke-width="0.9"/>
<polygon points="735.5,1464.3 734.1,1469.3 736.9,1469.3" fill="#111"/>
<polygon points="735.5,1541.4 734.1,1536.4 736.9,1536.4" fill="#111"/>
<line x1="738.5" y1="1501.8" x2="752" y2="1501.8" stroke="#222" stroke-width="0.9"/>
<polygon points="749.4,1501.8 744.4,1500.5 744.4,1503.1" fill="#111"/>
<line x1="735.5" y1="1464.3" x2="752" y2="1464.3" stroke="#222" stroke-width="0.9"/>
<polygon points="749.4,1464.3 744.4,1463 744.4,1465.6" fill="#111"/>
<text transform="translate(733.9,1501) rotate(-90) scale(0.78,1)" font-size="10.4" text-anchor="middle" fill="#111" stroke="#111" stroke-width="0.22">57m</text>
<line x1="790" y1="1426.7" x2="790" y2="1542" stroke="#222" stroke-width="0.9"/>
<polygon points="790,1426.7 788.6,1431.7 791.4,1431.7" fill="#111"/>
<polygon points="790,1541.4 788.6,1536.4 791.4,1536.4" fill="#111"/>
<line x1="793" y1="1501.8" x2="806.6" y2="1501.8" stroke="#222" stroke-width="0.9"/>
<polygon points="804,1501.8 799,1500.5 799,1503.1" fill="#111"/>
<line x1="793" y1="1464.3" x2="806.6" y2="1464.3" stroke="#222" stroke-width="0.9"/>
<polygon points="804,1464.3 799,1463 799,1465.6" fill="#111"/>
<line x1="790" y1="1426.7" x2="806.6" y2="1426.7" stroke="#222" stroke-width="0.9"/>
<polygon points="804,1426.7 799,1425.4 799,1428" fill="#111"/>
<text transform="translate(788.4,1480.2) rotate(-90) scale(0.78,1)" font-size="10.4" text-anchor="middle" fill="#111" stroke="#111" stroke-width="0.22">81m</text>
<line x1="844.7" y1="1389.5" x2="844.7" y2="1542" stroke="#222" stroke-width="0.9"/>
<polygon points="844.7,1389.5 843.3,1394.5 846.1,1394.5" fill="#111"/>
<polygon points="844.7,1541.4 843.3,1536.4 846.1,1536.4" fill="#111"/>
<line x1="847.7" y1="1501.8" x2="861.2" y2="1501.8" stroke="#222" stroke-width="0.9"/>
<polygon points="858.6,1501.8 853.6,1500.5 853.6,1503.1" fill="#111"/>
<line x1="847.7" y1="1464.3" x2="861.2" y2="1464.3" stroke="#222" stroke-width="0.9"/>
<polygon points="858.6,1464.3 853.6,1463 853.6,1465.6" fill="#111"/>
<line x1="847.7" y1="1426.7" x2="861.2" y2="1426.7" stroke="#222" stroke-width="0.9"/>
<polygon points="858.6,1426.7 853.6,1425.4 853.6,1428" fill="#111"/>
<line x1="844.7" y1="1389.5" x2="861.2" y2="1389.5" stroke="#222" stroke-width="0.9"/>
<polygon points="858.6,1389.5 853.6,1388.2 853.6,1390.8" fill="#111"/>
<text transform="translate(843.1,1462.9) rotate(-90) scale(0.78,1)" font-size="10.4" text-anchor="middle" fill="#111" stroke="#111" stroke-width="0.22">105m</text>
<line x1="899.7" y1="1352.6" x2="899.7" y2="1542" stroke="#222" stroke-width="0.9"/>
<polygon points="899.7,1352.6 898.3,1357.6 901.1,1357.6" fill="#111"/>
<polygon points="899.7,1541.4 898.3,1536.4 901.1,1536.4" fill="#111"/>
<line x1="902.7" y1="1501.8" x2="916.2" y2="1501.8" stroke="#222" stroke-width="0.9"/>
<polygon points="913.6,1501.8 908.6,1500.5 908.6,1503.1" fill="#111"/>
<line x1="902.7" y1="1464.3" x2="916.2" y2="1464.3" stroke="#222" stroke-width="0.9"/>
<polygon points="913.6,1464.3 908.6,1463 908.6,1465.6" fill="#111"/>
<line x1="902.7" y1="1426.7" x2="916.2" y2="1426.7" stroke="#222" stroke-width="0.9"/>
<polygon points="913.6,1426.7 908.6,1425.4 908.6,1428" fill="#111"/>
<line x1="902.7" y1="1389.5" x2="916.2" y2="1389.5" stroke="#222" stroke-width="0.9"/>
<polygon points="913.6,1389.5 908.6,1388.2 908.6,1390.8" fill="#111"/>
<line x1="899.7" y1="1352.6" x2="916.2" y2="1352.6" stroke="#222" stroke-width="0.9"/>
<polygon points="913.6,1352.6 908.6,1351.3 908.6,1353.9" fill="#111"/>
<text transform="translate(898.1,1444.7) rotate(-90) scale(0.78,1)" font-size="10.4" text-anchor="middle" fill="#111" stroke="#111" stroke-width="0.22">129m</text>
<line x1="233.6" y1="1542" x2="959.6" y2="1542" stroke="#1c1c1c" stroke-width="1.6"/>
</svg>
</div></body></html>
